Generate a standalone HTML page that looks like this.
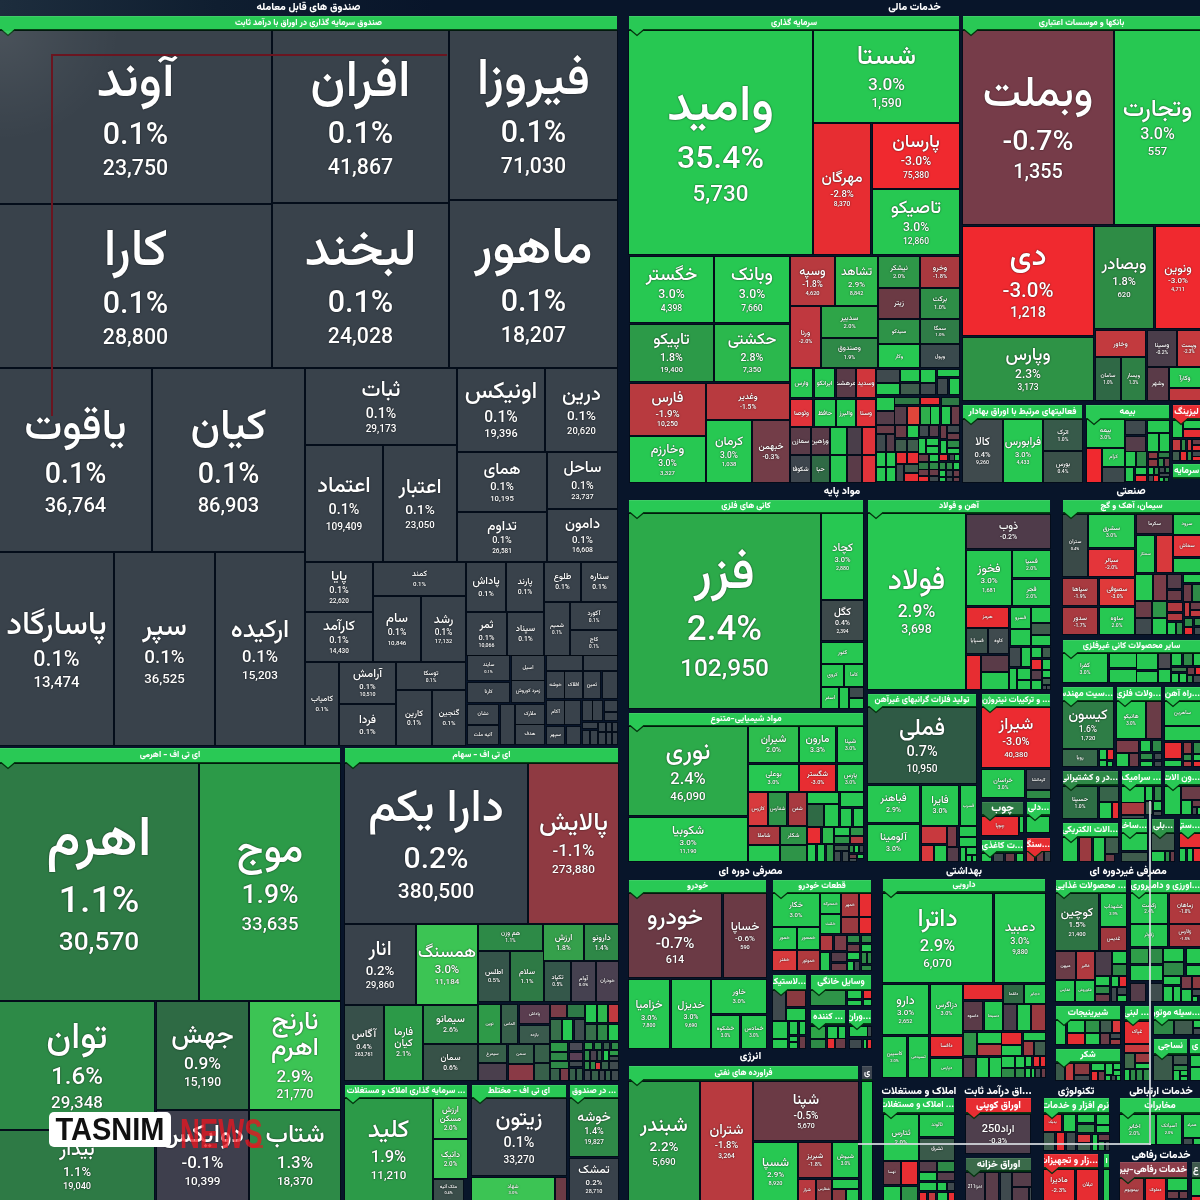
<!DOCTYPE html><html lang="fa"><head><meta charset="utf-8"><title>Market map</title><style>
*{margin:0;padding:0;box-sizing:border-box}
html,body{width:1200px;height:1200px;overflow:hidden;background:#08152a}
body{position:relative;font-family:"Vazirmatn","Liberation Sans","DejaVu Sans",sans-serif;color:#fff}
.c{position:absolute;overflow:hidden;box-shadow:0 0 0 1px rgba(0,6,10,.5);display:flex;align-items:center;justify-content:center}
.t{display:flex;flex-direction:column;align-items:center;text-align:center;text-shadow:0 0 2px rgba(0,0,0,.55),0 0 1px rgba(0,0,0,.4)}
.n{font-family:"Vazirmatn","DejaVu Sans",sans-serif;font-weight:500;line-height:1;white-space:nowrap}
.p,.v{font-family:"Roboto","Liberation Sans",sans-serif;font-weight:500;line-height:1.3;white-space:nowrap}
.h{position:absolute;text-align:center;font-weight:800;box-shadow:inset 0 -1px 0 rgba(2,50,14,.9),0 1px 0 rgba(2,50,14,.9),inset 0 1px 0 rgba(255,255,255,.1);white-space:nowrap;overflow:hidden;font-family:"Vazirmatn","DejaVu Sans",sans-serif;direction:rtl}
.nts{position:absolute;overflow:visible}
.nt{position:absolute;width:0;height:0;border-left:6px solid transparent;border-right:6px solid transparent;border-top:6px solid #33c653}
.ti{position:absolute;direction:rtl;text-align:center;font-weight:800;color:#fff;height:15px;line-height:15px;white-space:nowrap;font-family:"Vazirmatn","DejaVu Sans",sans-serif}
</style></head><body>
<div style="position:absolute;left:0;top:0;width:620px;height:16px;background:linear-gradient(to right,#1d2d3d,#0f1e30 35%,#08152a 70%)"></div>
<div class="ti" style="left:0px;top:0px;width:617px;font-size:10.5px">صندوق های قابل معامله</div>
<div class="h" style="left:0px;top:16px;width:617px;height:14px;background:#29c955;font-size:8.5px;line-height:14px;color:#fff">صندوق سرمایه گذاری در اوراق با درآمد ثابت</div>
<div class="c" style="left:0px;top:31px;width:271px;height:172px;background:#39424b"><div class="t" style="margin-top:5.5px"><span class="n" style="font-size:51.0px">آوند</span><span class="p" style="font-size:30.5px;margin-top:4.6px">0.1%</span><span class="v" style="font-size:21.3px">23,750</span></div></div>
<div class="c" style="left:273px;top:31px;width:175px;height:171px;background:#39424b"><div class="t" style="margin-top:5.5px"><span class="n" style="font-size:51.0px">افران</span><span class="p" style="font-size:30.5px;margin-top:4.6px">0.1%</span><span class="v" style="font-size:21.3px">41,867</span></div></div>
<div class="c" style="left:450px;top:31px;width:167px;height:168px;background:#39424b"><div class="t" style="margin-top:5.5px"><span class="n" style="font-size:51.0px">فیروزا</span><span class="p" style="font-size:30.5px;margin-top:4.6px">0.1%</span><span class="v" style="font-size:21.3px">71,030</span></div></div>
<div class="c" style="left:0px;top:205px;width:271px;height:162px;background:#39424b"><div class="t" style="margin-top:5.5px"><span class="n" style="font-size:51.0px">کارا</span><span class="p" style="font-size:30.5px;margin-top:4.6px">0.1%</span><span class="v" style="font-size:21.3px">28,800</span></div></div>
<div class="c" style="left:273px;top:204px;width:175px;height:163px;background:#39424b"><div class="t" style="margin-top:5.5px"><span class="n" style="font-size:51.0px">لبخند</span><span class="p" style="font-size:30.5px;margin-top:4.6px">0.1%</span><span class="v" style="font-size:21.3px">24,028</span></div></div>
<div class="c" style="left:450px;top:201px;width:167px;height:166px;background:#39424b"><div class="t" style="margin-top:5.5px"><span class="n" style="font-size:51.0px">ماهور</span><span class="p" style="font-size:30.5px;margin-top:4.6px">0.1%</span><span class="v" style="font-size:21.3px">18,207</span></div></div>
<div class="c" style="left:0px;top:369px;width:151px;height:182px;background:#39424b"><div class="t" style="margin-top:5.2px"><span class="n" style="font-size:43.0px">یاقوت</span><span class="p" style="font-size:28.7px;margin-top:4.3px">0.1%</span><span class="v" style="font-size:20.1px">36,764</span></div></div>
<div class="c" style="left:153px;top:369px;width:151px;height:182px;background:#39424b"><div class="t" style="margin-top:5.2px"><span class="n" style="font-size:43.0px">کیان</span><span class="p" style="font-size:28.7px;margin-top:4.3px">0.1%</span><span class="v" style="font-size:20.1px">86,903</span></div></div>
<div class="c" style="left:306px;top:369px;width:150px;height:75px;background:#39424b"><div class="t" style="margin-top:2.6px"><span class="n" style="font-size:21.4px">ثبات</span><span class="p" style="font-size:14.2px;margin-top:2.1px">0.1%</span><span class="v" style="font-size:10.0px">29,173</span></div></div>
<div class="c" style="left:306px;top:446px;width:76px;height:115px;background:#39424b"><div class="t" style="margin-top:2.6px"><span class="n" style="font-size:21.7px">اعتماد</span><span class="p" style="font-size:14.4px;margin-top:2.2px">0.1%</span><span class="v" style="font-size:10.1px">109,409</span></div></div>
<div class="c" style="left:384px;top:446px;width:72px;height:115px;background:#39424b"><div class="t" style="margin-top:2.5px"><span class="n" style="font-size:20.5px">اعتبار</span><span class="p" style="font-size:13.7px;margin-top:2.1px">0.1%</span><span class="v" style="font-size:9.6px">23,050</span></div></div>
<div class="c" style="left:458px;top:369px;width:86px;height:82px;background:#39424b"><div class="t" style="margin-top:2.8px"><span class="n" style="font-size:23.4px">اونیکس</span><span class="p" style="font-size:15.6px;margin-top:2.3px">0.1%</span><span class="v" style="font-size:10.9px">19,396</span></div></div>
<div class="c" style="left:546px;top:369px;width:71px;height:82px;background:#39424b"><div class="t" style="margin-top:2.4px"><span class="n" style="font-size:20.2px">درین</span><span class="p" style="font-size:13.5px;margin-top:2.0px">0.1%</span><span class="v" style="font-size:9.4px">20,620</span></div></div>
<div class="c" style="left:458px;top:453px;width:88px;height:58px;background:#39424b"><div class="t" style="margin-top:2.0px"><span class="n" style="font-size:16.5px">همای</span><span class="p" style="font-size:11.0px;margin-top:1.7px">0.1%</span><span class="v" style="font-size:7.7px">10,195</span></div></div>
<div class="c" style="left:548px;top:453px;width:69px;height:55px;background:#39424b"><div class="t" style="margin-top:1.9px"><span class="n" style="font-size:15.7px">ساحل</span><span class="p" style="font-size:10.4px;margin-top:1.6px">0.1%</span><span class="v" style="font-size:7.3px">23,737</span></div></div>
<div class="c" style="left:458px;top:513px;width:88px;height:48px;background:#39424b"><div class="t" style="margin-top:1.6px"><span class="n" style="font-size:13.7px">تداوم</span><span class="p" style="font-size:9.1px;margin-top:1.4px">0.1%</span><span class="v" style="font-size:6.4px">26,581</span></div></div>
<div class="c" style="left:548px;top:510px;width:69px;height:51px;background:#39424b"><div class="t" style="margin-top:1.7px"><span class="n" style="font-size:14.5px">دامون</span><span class="p" style="font-size:9.7px;margin-top:1.5px">0.1%</span><span class="v" style="font-size:6.8px">16,608</span></div></div>
<div class="c" style="left:0px;top:553px;width:113px;height:192px;background:#39424b"><div class="t" style="margin-top:3.9px"><span class="n" style="font-size:32.2px">پاسارگاد</span><span class="p" style="font-size:21.5px;margin-top:3.2px">0.1%</span><span class="v" style="font-size:15.0px">13,474</span></div></div>
<div class="c" style="left:115px;top:553px;width:99px;height:192px;background:#39424b"><div class="t" style="margin-top:3.4px"><span class="n" style="font-size:28.2px">سپر</span><span class="p" style="font-size:18.8px;margin-top:2.8px">0.1%</span><span class="v" style="font-size:13.2px">36,525</span></div></div>
<div class="c" style="left:216px;top:553px;width:88px;height:192px;background:#39424b"><div class="t" style="margin-top:3.0px"><span class="n" style="font-size:25.1px">ارکیده</span><span class="p" style="font-size:16.7px;margin-top:2.5px">0.1%</span><span class="v" style="font-size:11.7px">15,203</span></div></div>
<div class="c" style="left:306px;top:563px;width:66px;height:48px;background:#39424b"><div class="t" style="margin-top:1.6px"><span class="n" style="font-size:13.7px">پایا</span><span class="p" style="font-size:9.1px;margin-top:1.4px">0.1%</span><span class="v" style="font-size:6.4px">22,620</span></div></div>
<div class="c" style="left:374px;top:563px;width:91px;height:32px;background:#39424b"><div class="t" style="margin-top:1.1px"><span class="n" style="font-size:7.9px">کمند</span><span class="p" style="font-size:6.1px;margin-top:0.9px">0.1%</span></div></div>
<div class="c" style="left:374px;top:597px;width:46px;height:64px;background:#39424b"><div class="t" style="margin-top:1.6px"><span class="n" style="font-size:13.1px">سام</span><span class="p" style="font-size:8.7px;margin-top:1.3px">0.1%</span><span class="v" style="font-size:6.1px">10,846</span></div></div>
<div class="c" style="left:422px;top:597px;width:43px;height:64px;background:#39424b"><div class="t" style="margin-top:1.5px"><span class="n" style="font-size:12.3px">رشد</span><span class="p" style="font-size:8.2px;margin-top:1.2px">0.1%</span><span class="v" style="font-size:5.7px">17,132</span></div></div>
<div class="c" style="left:306px;top:613px;width:66px;height:48px;background:#39424b"><div class="t" style="margin-top:1.6px"><span class="n" style="font-size:13.7px">کارآمد</span><span class="p" style="font-size:9.1px;margin-top:1.4px">0.1%</span><span class="v" style="font-size:6.4px">14,430</span></div></div>
<div class="c" style="left:306px;top:663px;width:32px;height:82px;background:#39424b"><div class="t" style="margin-top:1.1px"><span class="n" style="font-size:7.9px">کامیاب</span><span class="p" style="font-size:6.1px;margin-top:0.9px">0.1%</span></div></div>
<div class="c" style="left:340px;top:663px;width:55px;height:40px;background:#39424b"><div class="t" style="margin-top:1.4px"><span class="n" style="font-size:11.4px">آرامش</span><span class="p" style="font-size:7.6px;margin-top:1.1px">0.1%</span><span class="v" style="font-size:5.3px">10,510</span></div></div>
<div class="c" style="left:340px;top:705px;width:55px;height:40px;background:#39424b"><div class="t" style="margin-top:1.4px"><span class="n" style="font-size:11.4px">فردا</span><span class="p" style="font-size:7.6px;margin-top:1.1px">0.1%</span></div></div>
<div class="c" style="left:397px;top:663px;width:68px;height:26px;background:#39424b"><div class="t" style="margin-top:0.9px"><span class="n" style="font-size:6.4px">توسکا</span><span class="p" style="font-size:4.9px;margin-top:0.7px">0.1%</span></div></div>
<div class="c" style="left:397px;top:691px;width:34px;height:54px;background:#39424b"><div class="t" style="margin-top:1.2px"><span class="n" style="font-size:8.4px">کارین</span><span class="p" style="font-size:6.5px;margin-top:1.0px">0.1%</span></div></div>
<div class="c" style="left:433px;top:691px;width:32px;height:54px;background:#39424b"><div class="t" style="margin-top:1.1px"><span class="n" style="font-size:7.9px">گنجین</span><span class="p" style="font-size:6.1px;margin-top:0.9px">0.1%</span></div></div>
<div class="c" style="left:467px;top:563px;width:38px;height:48px;background:#39424b"><div class="t" style="margin-top:1.3px"><span class="n" style="font-size:10.8px">پاداش</span><span class="p" style="font-size:7.2px;margin-top:1.1px">0.1%</span></div></div>
<div class="c" style="left:507px;top:563px;width:36px;height:48px;background:#39424b"><div class="t" style="margin-top:1.2px"><span class="n" style="font-size:8.9px">پارند</span><span class="p" style="font-size:6.8px;margin-top:1.0px">0.1%</span></div></div>
<div class="c" style="left:545px;top:563px;width:35px;height:38px;background:#39424b"><div class="t" style="margin-top:1.2px"><span class="n" style="font-size:8.6px">طلوع</span><span class="p" style="font-size:6.7px;margin-top:1.0px">0.1%</span></div></div>
<div class="c" style="left:582px;top:563px;width:35px;height:38px;background:#39424b"><div class="t" style="margin-top:1.2px"><span class="n" style="font-size:8.6px">ستاره</span><span class="p" style="font-size:6.7px;margin-top:1.0px">0.1%</span></div></div>
<div class="c" style="left:467px;top:613px;width:39px;height:42px;background:#39424b"><div class="t" style="margin-top:1.3px"><span class="n" style="font-size:11.1px">ثمر</span><span class="p" style="font-size:7.4px;margin-top:1.1px">0.1%</span><span class="v" style="font-size:5.2px">10,066</span></div></div>
<div class="c" style="left:508px;top:613px;width:35px;height:42px;background:#39424b"><div class="t" style="margin-top:1.2px"><span class="n" style="font-size:8.6px">سپناد</span><span class="p" style="font-size:6.7px;margin-top:1.0px">0.1%</span></div></div>
<div class="c" style="left:545px;top:603px;width:24px;height:52px;background:#39424b"><div class="t" style="margin-top:0.8px"><span class="n" style="font-size:5.9px">شمیم</span><span class="p" style="font-size:4.6px;margin-top:0.7px">0.1%</span></div></div>
<div class="c" style="left:571px;top:603px;width:46px;height:26px;background:#39424b"><div class="t" style="margin-top:0.9px"><span class="n" style="font-size:6.4px">آکورد</span><span class="p" style="font-size:4.9px;margin-top:0.7px">0.1%</span></div></div>
<div class="c" style="left:571px;top:631px;width:46px;height:24px;background:#39424b"><div class="t" style="margin-top:0.8px"><span class="n" style="font-size:5.9px">کاج</span><span class="p" style="font-size:4.6px;margin-top:0.7px">0.1%</span></div></div>
<div class="c" style="left:468px;top:656px;width:41px;height:24px;background:#39424b"><div class="t" style="margin-top:0.7px"><span class="n" style="font-size:5.2px">سایند</span><span class="p" style="font-size:4.0px;margin-top:0.6px">0.1%</span></div></div>
<div class="c" style="left:512px;top:656px;width:32px;height:24px;background:#39424b"><div class="t" style="margin-top:0.7px"><span class="n" style="font-size:5.2px">اسیل</span></div></div>
<div class="c" style="left:468px;top:683px;width:41px;height:19px;background:#39424b"><div class="t" style="margin-top:0.7px"><span class="n" style="font-size:5.2px">کارنا</span></div></div>
<div class="c" style="left:512px;top:681px;width:32px;height:21px;background:#39424b"><div class="t" style="margin-top:0.7px"><span class="n" style="font-size:5.2px">زمرد کوروش</span></div></div>
<div class="c" style="left:468px;top:705px;width:30px;height:19px;background:#39424b"><div class="t" style="margin-top:0.7px"><span class="n" style="font-size:5.2px">نشان</span></div></div>
<div class="c" style="left:501px;top:705px;width:13px;height:39px;background:#39424b"></div>
<div class="c" style="left:516px;top:705px;width:28px;height:19px;background:#39424b"><div class="t" style="margin-top:0.7px"><span class="n" style="font-size:5.2px">ملارک</span></div></div>
<div class="c" style="left:468px;top:726px;width:30px;height:18px;background:#39424b"><div class="t" style="margin-top:0.7px"><span class="n" style="font-size:5.2px">آتیه ملت</span></div></div>
<div class="c" style="left:516px;top:725px;width:28px;height:19px;background:#39424b"><div class="t" style="margin-top:0.7px"><span class="n" style="font-size:5.2px">هدف</span></div></div>
<div class="c" style="left:547px;top:656px;width:35px;height:14px;background:#39424b"></div>
<div class="c" style="left:584px;top:656px;width:33px;height:14px;background:#39424b"></div>
<div class="c" style="left:547px;top:672px;width:17px;height:26px;background:#39424b"><div class="t" style="margin-top:0.7px"><span class="n" style="font-size:5.2px">خوشه</span></div></div>
<div class="c" style="left:565px;top:672px;width:17px;height:26px;background:#39424b"><div class="t" style="margin-top:0.7px"><span class="n" style="font-size:5.2px">افلاک</span></div></div>
<div class="c" style="left:584px;top:672px;width:16px;height:26px;background:#39424b"><div class="t" style="margin-top:0.7px"><span class="n" style="font-size:5.2px">ثمین</span></div></div>
<div class="c" style="left:603px;top:672px;width:14px;height:26px;background:#39424b"></div>
<div class="c" style="left:547px;top:701px;width:17px;height:23px;background:#39424b"><div class="t" style="margin-top:0.7px"><span class="n" style="font-size:5.2px">آکام</span></div></div>
<div class="c" style="left:565px;top:701px;width:15px;height:23px;background:#39424b"></div>
<div class="c" style="left:547px;top:727px;width:17px;height:17px;background:#39424b"><div class="t" style="margin-top:0.7px"><span class="n" style="font-size:5.2px">سپهر</span></div></div>
<div class="c" style="left:567px;top:727px;width:13px;height:17px;background:#39424b"></div>
<div class="c" style="left:583px;top:701px;width:9px;height:19px;background:#39424b"></div>
<div class="c" style="left:593px;top:701px;width:9px;height:19px;background:#39424b"></div>
<div class="c" style="left:605px;top:701px;width:12px;height:10px;background:#39424b"></div>
<div class="c" style="left:605px;top:713px;width:12px;height:7px;background:#39424b"></div>
<div class="c" style="left:583px;top:723px;width:14px;height:5px;background:#39424b"></div>
<div class="c" style="left:583px;top:731px;width:6px;height:13px;background:#39424b"></div>
<div class="c" style="left:591px;top:731px;width:6px;height:13px;background:#39424b"></div>
<div class="c" style="left:599px;top:723px;width:6px;height:8px;background:#39424b"></div>
<div class="c" style="left:607px;top:723px;width:4px;height:8px;background:#39424b"></div>
<div class="c" style="left:613px;top:723px;width:4px;height:8px;background:#39424b"></div>
<div class="c" style="left:599px;top:733px;width:6px;height:11px;background:#39424b"></div>
<div class="c" style="left:607px;top:733px;width:4px;height:11px;background:#39424b"></div>
<div class="c" style="left:613px;top:733px;width:4px;height:11px;background:#39424b"></div>
<div class="h" style="left:0px;top:748px;width:340px;height:15px;background:#29c955;font-size:8.5px;line-height:15px;color:#fff">ای تی اف - اهرمی</div>
<div class="c" style="left:0px;top:764px;width:198px;height:236px;background:#2e7a45"><div class="t" style="margin-top:6.8px"><span class="n" style="font-size:56.4px">اهرم</span><span class="p" style="font-size:37.6px;margin-top:5.6px">1.1%</span><span class="v" style="font-size:26.3px">30,570</span></div></div>
<div class="c" style="left:200px;top:764px;width:140px;height:236px;background:#2c9a48"><div class="t" style="margin-top:4.8px"><span class="n" style="font-size:39.9px">موج</span><span class="p" style="font-size:26.6px;margin-top:4.0px">1.9%</span><span class="v" style="font-size:18.6px">33,635</span></div></div>
<div class="c" style="left:0px;top:1002px;width:154px;height:127px;background:#2d8a47"><div class="t" style="margin-top:4.3px"><span class="n" style="font-size:36.2px">توان</span><span class="p" style="font-size:24.1px;margin-top:3.6px">1.6%</span><span class="v" style="font-size:16.9px">29,348</span></div></div>
<div class="c" style="left:0px;top:1131px;width:154px;height:69px;background:#2e7a45"><div class="t" style="margin-top:2.4px"><span class="n" style="font-size:19.7px">بیدار</span><span class="p" style="font-size:13.1px;margin-top:2.0px">1.1%</span><span class="v" style="font-size:9.2px">19,040</span></div></div>
<div class="c" style="left:157px;top:1002px;width:91px;height:107px;background:#2e6a44"><div class="t" style="margin-top:3.1px"><span class="n" style="font-size:25.9px">جهش</span><span class="p" style="font-size:17.3px;margin-top:2.6px">0.9%</span><span class="v" style="font-size:12.1px">15,190</span></div></div>
<div class="c" style="left:157px;top:1111px;width:91px;height:89px;background:#3e3f4d"><div class="t" style="margin-top:3.0px"><span class="n" style="font-size:25.4px">دوایکس</span><span class="p" style="font-size:16.9px;margin-top:2.5px">-0.1%</span><span class="v" style="font-size:11.8px">10,399</span></div></div>
<div class="c" style="left:250px;top:1002px;width:90px;height:107px;background:#3cc454"><div class="t" style="margin-top:3.1px"><span class="n" style="font-size:25.7px">نارنج<br>اهرم</span><span class="p" style="font-size:17.1px;margin-top:2.6px">2.9%</span><span class="v" style="font-size:12.0px">21,770</span></div></div>
<div class="c" style="left:250px;top:1111px;width:90px;height:89px;background:#2d8a47"><div class="t" style="margin-top:3.0px"><span class="n" style="font-size:25.4px">شتاب</span><span class="p" style="font-size:16.9px;margin-top:2.5px">1.3%</span><span class="v" style="font-size:11.8px">18,370</span></div></div>
<div class="h" style="left:345px;top:748px;width:273px;height:15px;background:#29c955;font-size:8.5px;line-height:15px;color:#fff">ای تی اف - سهام</div>
<div class="c" style="left:345px;top:764px;width:182px;height:159px;background:#37414b"><div class="t" style="margin-top:5.4px"><span class="n" style="font-size:45.3px">دارا یکم</span><span class="p" style="font-size:30.2px;margin-top:4.5px">0.2%</span><span class="v" style="font-size:21.1px">380,500</span></div></div>
<div class="c" style="left:529px;top:764px;width:89px;height:159px;background:#8f3a42"><div class="t" style="margin-top:3.0px"><span class="n" style="font-size:25.4px">پالایش</span><span class="p" style="font-size:16.9px;margin-top:2.5px">-1.1%</span><span class="v" style="font-size:11.8px">273,880</span></div></div>
<div class="c" style="left:345px;top:925px;width:70px;height:79px;background:#39424b"><div class="t" style="margin-top:2.4px"><span class="n" style="font-size:20.0px">انار</span><span class="p" style="font-size:13.3px;margin-top:2.0px">0.2%</span><span class="v" style="font-size:9.3px">29,860</span></div></div>
<div class="c" style="left:417px;top:925px;width:60px;height:79px;background:#3cc454"><div class="t" style="margin-top:2.1px"><span class="n" style="font-size:17.1px">همسنگ</span><span class="p" style="font-size:11.4px;margin-top:1.7px">3.0%</span><span class="v" style="font-size:8.0px">11,184</span></div></div>
<div class="c" style="left:479px;top:925px;width:63px;height:25px;background:#2d8a47"><div class="t" style="margin-top:0.9px"><span class="n" style="font-size:6.2px">هم وزن</span><span class="p" style="font-size:4.8px;margin-top:0.7px">1.1%</span></div></div>
<div class="c" style="left:544px;top:925px;width:39px;height:35px;background:#35a04b"><div class="t" style="margin-top:1.2px"><span class="n" style="font-size:8.6px">ارزش</span><span class="p" style="font-size:6.7px;margin-top:1.0px">1.8%</span></div></div>
<div class="c" style="left:585px;top:925px;width:33px;height:35px;background:#2e8847"><div class="t" style="margin-top:1.1px"><span class="n" style="font-size:8.2px">دارونو</span><span class="p" style="font-size:6.3px;margin-top:0.9px">1.4%</span></div></div>
<div class="c" style="left:479px;top:952px;width:30px;height:49px;background:#35554a"><div class="t" style="margin-top:1.0px"><span class="n" style="font-size:7.4px">اطلس</span><span class="p" style="font-size:5.7px;margin-top:0.9px">0.5%</span></div></div>
<div class="c" style="left:511px;top:952px;width:32px;height:49px;background:#2e7a45"><div class="t" style="margin-top:1.1px"><span class="n" style="font-size:7.9px">سلام</span><span class="p" style="font-size:6.1px;margin-top:0.9px">1.1%</span></div></div>
<div class="c" style="left:545px;top:962px;width:25px;height:39px;background:#34574a"><div class="t" style="margin-top:0.9px"><span class="n" style="font-size:6.2px">تکپاد</span><span class="p" style="font-size:4.8px;margin-top:0.7px">0.5%</span></div></div>
<div class="c" style="left:572px;top:962px;width:23px;height:39px;background:#454150"><div class="t" style="margin-top:0.8px"><span class="n" style="font-size:5.7px">آوام</span><span class="p" style="font-size:4.4px;margin-top:0.7px">0.0%</span></div></div>
<div class="c" style="left:597px;top:962px;width:21px;height:39px;background:#4a4050"><div class="t" style="margin-top:0.7px"><span class="n" style="font-size:5.2px">خودران</span></div></div>
<div class="c" style="left:345px;top:1006px;width:38px;height:74px;background:#37504a"><div class="t" style="margin-top:1.3px"><span class="n" style="font-size:10.8px">آگاس</span><span class="p" style="font-size:7.2px;margin-top:1.1px">0.4%</span><span class="v" style="font-size:5.1px">263,761</span></div></div>
<div class="c" style="left:385px;top:1006px;width:37px;height:74px;background:#2c9a48"><div class="t" style="margin-top:1.3px"><span class="n" style="font-size:10.5px">فارما<br>کیان</span><span class="p" style="font-size:7.0px;margin-top:1.1px">2.1%</span></div></div>
<div class="c" style="left:424px;top:1006px;width:53px;height:37px;background:#2d8a47"><div class="t" style="margin-top:1.3px"><span class="n" style="font-size:10.5px">سیمانو</span><span class="p" style="font-size:7.0px;margin-top:1.1px">2.6%</span></div></div>
<div class="c" style="left:424px;top:1045px;width:53px;height:35px;background:#375248"><div class="t" style="margin-top:1.2px"><span class="n" style="font-size:8.6px">سمان</span><span class="p" style="font-size:6.7px;margin-top:1.0px">0.6%</span></div></div>
<div class="c" style="left:479px;top:1005px;width:21px;height:38px;background:#2e9a48"><div class="t" style="margin-top:0.6px"><span class="n" style="font-size:4.5px">نوین</span></div></div>
<div class="c" style="left:502px;top:1005px;width:15px;height:38px;background:#37604a"><div class="t" style="margin-top:0.6px"><span class="n" style="font-size:4.5px">الماس</span></div></div>
<div class="c" style="left:520px;top:1005px;width:29px;height:18px;background:#5a3d4f"><div class="t" style="margin-top:0.6px"><span class="n" style="font-size:4.5px">پاداش</span></div></div>
<div class="c" style="left:520px;top:1026px;width:29px;height:17px;background:#3a5a4d"><div class="t" style="margin-top:0.6px"><span class="n" style="font-size:4.5px">بازده</span></div></div>
<div class="c" style="left:551px;top:1005px;width:15px;height:12px;background:#7a3c48"></div>
<div class="c" style="left:568px;top:1005px;width:16px;height:12px;background:#2e7a47"></div>
<div class="c" style="left:586px;top:1005px;width:10px;height:17px;background:#27c852"></div>
<div class="c" style="left:598px;top:1005px;width:9px;height:17px;background:#2fb84d"></div>
<div class="c" style="left:609px;top:1005px;width:9px;height:17px;background:#c03a3f"></div>
<div class="c" style="left:551px;top:1020px;width:10px;height:20px;background:#37704a"></div>
<div class="c" style="left:563px;top:1020px;width:9px;height:20px;background:#27c852"></div>
<div class="c" style="left:575px;top:1020px;width:9px;height:20px;background:#3d4d4e"></div>
<div class="c" style="left:586px;top:1025px;width:10px;height:15px;background:#37704a"></div>
<div class="c" style="left:598px;top:1025px;width:9px;height:15px;background:#2e8a47"></div>
<div class="c" style="left:609px;top:1025px;width:9px;height:15px;background:#27c852"></div>
<div class="c" style="left:479px;top:1045px;width:27px;height:17px;background:#37604a"><div class="t" style="margin-top:0.6px"><span class="n" style="font-size:4.5px">سیمرغ</span></div></div>
<div class="c" style="left:509px;top:1045px;width:24px;height:18px;background:#37604a"><div class="t" style="margin-top:0.6px"><span class="n" style="font-size:4.5px">سمن</span></div></div>
<div class="c" style="left:535px;top:1045px;width:14px;height:17px;background:#37604a"></div>
<div class="c" style="left:479px;top:1064px;width:27px;height:16px;background:#4a3f4d"></div>
<div class="c" style="left:509px;top:1065px;width:24px;height:15px;background:#8a3a46"></div>
<div class="c" style="left:535px;top:1064px;width:14px;height:16px;background:#37604a"></div>
<div class="c" style="left:551px;top:1043px;width:16px;height:8px;background:#2e9a48"></div>
<div class="c" style="left:551px;top:1053px;width:16px;height:7px;background:#2e8a47"></div>
<div class="c" style="left:551px;top:1062px;width:17px;height:6px;background:#2e8a47"></div>
<div class="c" style="left:551px;top:1069px;width:8px;height:11px;background:#37604a"></div>
<div class="c" style="left:561px;top:1069px;width:7px;height:11px;background:#7a3c48"></div>
<div class="c" style="left:570px;top:1043px;width:12px;height:7px;background:#4a4a55"></div>
<div class="c" style="left:570px;top:1053px;width:12px;height:7px;background:#5a3f55"></div>
<div class="c" style="left:570px;top:1062px;width:12px;height:4px;background:#3f4a4e"></div>
<div class="c" style="left:570px;top:1069px;width:5px;height:11px;background:#37604a"></div>
<div class="c" style="left:577px;top:1069px;width:5px;height:11px;background:#37604a"></div>
<div class="c" style="left:585px;top:1043px;width:7px;height:6px;background:#2e9a48"></div>
<div class="c" style="left:595px;top:1043px;width:6px;height:6px;background:#2e8a47"></div>
<div class="c" style="left:604px;top:1043px;width:5px;height:6px;background:#37604a"></div>
<div class="c" style="left:612px;top:1043px;width:6px;height:6px;background:#2e8a47"></div>
<div class="c" style="left:585px;top:1051px;width:4px;height:9px;background:#2e8a47"></div>
<div class="c" style="left:591px;top:1051px;width:5px;height:9px;background:#4a3f4d"></div>
<div class="c" style="left:598px;top:1051px;width:3px;height:9px;background:#37604a"></div>
<div class="c" style="left:604px;top:1051px;width:4px;height:9px;background:#27c852"></div>
<div class="c" style="left:610px;top:1051px;width:8px;height:4px;background:#2e9a48"></div>
<div class="c" style="left:610px;top:1057px;width:8px;height:3px;background:#3f4a4e"></div>
<div class="c" style="left:585px;top:1062px;width:4px;height:7px;background:#2e8a47"></div>
<div class="c" style="left:591px;top:1062px;width:4px;height:7px;background:#2e8a47"></div>
<div class="c" style="left:596px;top:1063px;width:4px;height:6px;background:#d8393d"></div>
<div class="c" style="left:602px;top:1062px;width:6px;height:7px;background:#37604a"></div>
<div class="c" style="left:610px;top:1062px;width:8px;height:7px;background:#3f4a4e"></div>
<div class="c" style="left:585px;top:1071px;width:5px;height:9px;background:#3f4a4e"></div>
<div class="c" style="left:592px;top:1071px;width:6px;height:9px;background:#37604a"></div>
<div class="c" style="left:600px;top:1071px;width:4px;height:9px;background:#3f4a4e"></div>
<div class="c" style="left:606px;top:1071px;width:4px;height:9px;background:#37604a"></div>
<div class="c" style="left:612px;top:1071px;width:6px;height:9px;background:#3f4a4e"></div>
<div class="h" style="left:345px;top:1085px;width:122px;height:13px;background:#29c955;font-size:8.5px;line-height:13px;color:#fff">... سرمایه گذاری املاک و مستغلات</div>
<div class="h" style="left:472px;top:1085px;width:94px;height:13px;background:#29c955;font-size:8.5px;line-height:13px;color:#fff">ای تی اف - مختلط</div>
<div class="h" style="left:570px;top:1085px;width:48px;height:13px;background:#29c955;font-size:8.5px;line-height:13px;color:#fff">... در صندوق</div>
<div class="c" style="left:345px;top:1099px;width:87px;height:101px;background:#2c9a48"><div class="t" style="margin-top:3.0px"><span class="n" style="font-size:24.8px">کلید</span><span class="p" style="font-size:16.5px;margin-top:2.5px">1.9%</span><span class="v" style="font-size:11.6px">11,210</span></div></div>
<div class="c" style="left:434px;top:1099px;width:33px;height:39px;background:#3cc454"><div class="t" style="margin-top:1.1px"><span class="n" style="font-size:8.2px">ارزش<br>مسکن</span><span class="p" style="font-size:6.3px;margin-top:0.9px">2.0%</span></div></div>
<div class="c" style="left:434px;top:1140px;width:33px;height:38px;background:#3cc454"><div class="t" style="margin-top:1.1px"><span class="n" style="font-size:8.2px">دانیک</span><span class="p" style="font-size:6.3px;margin-top:0.9px">2.0%</span></div></div>
<div class="c" style="left:434px;top:1180px;width:29px;height:20px;background:#3a4d4a"><div class="t" style="margin-top:0.7px"><span class="n" style="font-size:4.9px">ملک آتیه</span><span class="p" style="font-size:3.8px;margin-top:0.6px">0.4%</span></div></div>
<div class="c" style="left:472px;top:1099px;width:94px;height:76px;background:#39424b"><div class="t" style="margin-top:2.6px"><span class="n" style="font-size:21.7px">زیتون</span><span class="p" style="font-size:14.4px;margin-top:2.2px">0.1%</span><span class="v" style="font-size:10.1px">33,270</span></div></div>
<div class="c" style="left:472px;top:1178px;width:82px;height:22px;background:#3cc454"><div class="t" style="margin-top:0.8px"><span class="n" style="font-size:5.4px">شهاد</span><span class="p" style="font-size:4.2px;margin-top:0.6px">3.0%</span></div></div>
<div class="c" style="left:556px;top:1178px;width:10px;height:22px;background:#6b3a45"></div>
<div class="c" style="left:570px;top:1099px;width:48px;height:57px;background:#2f8a48"><div class="t" style="margin-top:1.6px"><span class="n" style="font-size:13.7px">خوشه</span><span class="p" style="font-size:9.1px;margin-top:1.4px">1.4%</span><span class="v" style="font-size:6.4px">19,827</span></div></div>
<div class="c" style="left:570px;top:1159px;width:48px;height:41px;background:#39424b"><div class="t" style="margin-top:1.4px"><span class="n" style="font-size:11.7px">تمشک</span><span class="p" style="font-size:7.8px;margin-top:1.2px">0.2%</span><span class="v" style="font-size:5.5px">28,710</span></div></div>
<div class="ti" style="left:629px;top:0px;width:571px;font-size:10.5px">خدمات مالی</div>
<div class="h" style="left:629px;top:16px;width:330px;height:14px;background:#29c955;font-size:8.5px;line-height:14px;color:#fff">سرمایه گذاری</div>
<div class="h" style="left:963px;top:16px;width:237px;height:14px;background:#29c955;font-size:8.5px;line-height:14px;color:#fff">بانکها و موسسات اعتباری</div>
<div class="c" style="left:629px;top:31px;width:183px;height:223px;background:#27c852"><div class="t" style="margin-top:5.8px"><span class="n" style="font-size:50.0px">وامید</span><span class="p" style="font-size:32.0px;margin-top:4.8px">35.4%</span><span class="v" style="font-size:22.4px">5,730</span></div></div>
<div class="c" style="left:814px;top:31px;width:145px;height:91px;background:#27c852"><div class="t" style="margin-top:3.1px"><span class="n" style="font-size:25.9px">شستا</span><span class="p" style="font-size:17.3px;margin-top:2.6px">3.0%</span><span class="v" style="font-size:12.1px">1,590</span></div></div>
<div class="c" style="left:814px;top:124px;width:56px;height:130px;background:#e72d32"><div class="t" style="margin-top:1.7px"><span class="n" style="font-size:15.0px">مهرگان</span><span class="p" style="font-size:9.5px;margin-top:1.4px">-2.8%</span><span class="v" style="font-size:6.6px">8,370</span></div></div>
<div class="c" style="left:873px;top:124px;width:86px;height:64px;background:#f0292f"><div class="t" style="margin-top:2.2px"><span class="n" style="font-size:18.2px">پارسان</span><span class="p" style="font-size:12.2px;margin-top:1.8px">-3.0%</span><span class="v" style="font-size:8.5px">75,380</span></div></div>
<div class="c" style="left:873px;top:190px;width:86px;height:64px;background:#27c852"><div class="t" style="margin-top:2.2px"><span class="n" style="font-size:18.2px">تاصیکو</span><span class="p" style="font-size:12.2px;margin-top:1.8px">3.0%</span><span class="v" style="font-size:8.5px">12,860</span></div></div>
<div class="c" style="left:963px;top:31px;width:150px;height:193px;background:#763c49"><div class="t" style="margin-top:5.1px"><span class="n" style="font-size:42.8px">وبملت</span><span class="p" style="font-size:28.5px;margin-top:4.3px">-0.7%</span><span class="v" style="font-size:19.9px">1,355</span></div></div>
<div class="c" style="left:1115px;top:31px;width:85px;height:193px;background:#27c852"><div class="t" style="margin-top:2.9px"><span class="n" style="font-size:24.2px">وتجارت</span><span class="p" style="font-size:16.1px;margin-top:2.4px">3.0%</span><span class="v" style="font-size:11.3px">557</span></div></div>
<div class="c" style="left:963px;top:227px;width:130px;height:108px;background:#f0292f"><div class="t" style="margin-top:3.7px"><span class="n" style="font-size:30.8px">دی</span><span class="p" style="font-size:20.5px;margin-top:3.1px">-3.0%</span><span class="v" style="font-size:14.4px">1,218</span></div></div>
<div class="c" style="left:1095px;top:227px;width:58px;height:101px;background:#2e8c45"><div class="t" style="margin-top:2.0px"><span class="n" style="font-size:16.5px">وبصادر</span><span class="p" style="font-size:11.0px;margin-top:1.6px">1.8%</span><span class="v" style="font-size:7.7px">620</span></div></div>
<div class="c" style="left:1156px;top:227px;width:44px;height:101px;background:#f0292f"><div class="t" style="margin-top:1.4px"><span class="n" style="font-size:12.0px">ونوین</span><span class="p" style="font-size:8.0px;margin-top:1.2px">-3.0%</span><span class="v" style="font-size:5.6px">4,711</span></div></div>
<div class="c" style="left:963px;top:338px;width:130px;height:62px;background:#2e9346"><div class="t" style="margin-top:2.2px"><span class="n" style="font-size:18.0px">وپارس</span><span class="p" style="font-size:12.0px;margin-top:1.8px">2.3%</span><span class="v" style="font-size:8.4px">3,173</span></div></div>
<div class="c" style="left:1096px;top:331px;width:49px;height:25px;background:#c23a3e"><div class="t" style="margin-top:0.9px"><span class="n" style="font-size:6.5px">وخاور</span></div></div>
<div class="c" style="left:1148px;top:331px;width:28px;height:35px;background:#4a3d4a"><div class="t" style="margin-top:0.9px"><span class="n" style="font-size:6.5px">وسینا</span><span class="p" style="font-size:5.0px;margin-top:0.8px">-0.2%</span></div></div>
<div class="c" style="left:1178px;top:331px;width:22px;height:35px;background:#c53a3e"><div class="t" style="margin-top:0.8px"><span class="n" style="font-size:5.9px">وپست</span><span class="p" style="font-size:4.5px;margin-top:0.7px">-2.3%</span></div></div>
<div class="c" style="left:1096px;top:358px;width:24px;height:42px;background:#2f6845"><div class="t" style="margin-top:0.8px"><span class="n" style="font-size:5.9px">سامان</span><span class="p" style="font-size:4.5px;margin-top:0.7px">1.0%</span></div></div>
<div class="c" style="left:1122px;top:358px;width:23px;height:42px;background:#2e8045"><div class="t" style="margin-top:0.8px"><span class="n" style="font-size:5.9px">ویسار</span><span class="p" style="font-size:4.5px;margin-top:0.7px">1.3%</span></div></div>
<div class="c" style="left:1148px;top:368px;width:20px;height:32px;background:#5a3b48"><div class="t" style="margin-top:0.8px"><span class="n" style="font-size:5.9px">وشهر</span></div></div>
<div class="c" style="left:1170px;top:368px;width:30px;height:19px;background:#27c852"><div class="t" style="margin-top:0.9px"><span class="n" style="font-size:6.5px">وکارآ</span></div></div>
<div class="c" style="left:1170px;top:389px;width:30px;height:11px;background:#c0393e"></div>
<div class="c" style="left:630px;top:257px;width:83px;height:65px;background:#27c852"><div class="t" style="margin-top:2.2px"><span class="n" style="font-size:18.5px">خگستر</span><span class="p" style="font-size:12.3px;margin-top:1.9px">3.0%</span><span class="v" style="font-size:8.6px">4,398</span></div></div>
<div class="c" style="left:715px;top:257px;width:74px;height:65px;background:#27c852"><div class="t" style="margin-top:2.2px"><span class="n" style="font-size:18.5px">وبانک</span><span class="p" style="font-size:12.3px;margin-top:1.9px">3.0%</span><span class="v" style="font-size:8.6px">7,660</span></div></div>
<div class="c" style="left:630px;top:325px;width:83px;height:56px;background:#2c9a48"><div class="t" style="margin-top:1.9px"><span class="n" style="font-size:16.0px">تاپیکو</span><span class="p" style="font-size:10.6px;margin-top:1.6px">1.8%</span><span class="v" style="font-size:7.4px">19,400</span></div></div>
<div class="c" style="left:715px;top:325px;width:74px;height:56px;background:#2bb84d"><div class="t" style="margin-top:1.9px"><span class="n" style="font-size:16.0px">حکشتی</span><span class="p" style="font-size:10.6px;margin-top:1.6px">2.8%</span><span class="v" style="font-size:7.4px">7,350</span></div></div>
<div class="c" style="left:630px;top:384px;width:75px;height:51px;background:#b83a3f"><div class="t" style="margin-top:1.7px"><span class="n" style="font-size:14.5px">فارس</span><span class="p" style="font-size:9.7px;margin-top:1.5px">-1.9%</span><span class="v" style="font-size:6.8px">10,250</span></div></div>
<div class="c" style="left:707px;top:384px;width:82px;height:35px;background:#b83a3f"><div class="t" style="margin-top:1.2px"><span class="n" style="font-size:8.6px">وغدیر</span><span class="p" style="font-size:6.7px;margin-top:1.0px">-1.5%</span></div></div>
<div class="c" style="left:630px;top:437px;width:75px;height:45px;background:#27c852"><div class="t" style="margin-top:1.5px"><span class="n" style="font-size:12.8px">وخارزم</span><span class="p" style="font-size:8.6px;margin-top:1.3px">3.0%</span><span class="v" style="font-size:6.0px">3,327</span></div></div>
<div class="c" style="left:707px;top:421px;width:44px;height:61px;background:#27c852"><div class="t" style="margin-top:1.5px"><span class="n" style="font-size:12.5px">کرمان</span><span class="p" style="font-size:8.4px;margin-top:1.3px">3.0%</span><span class="v" style="font-size:5.9px">1,038</span></div></div>
<div class="c" style="left:753px;top:421px;width:36px;height:61px;background:#733d48"><div class="t" style="margin-top:1.2px"><span class="n" style="font-size:8.9px">خبهمن</span><span class="p" style="font-size:6.8px;margin-top:1.0px">-0.3%</span></div></div>
<div class="c" style="left:791px;top:257px;width:43px;height:48px;background:#b83a3f"><div class="t" style="margin-top:1.5px"><span class="n" style="font-size:12.3px">وسپه</span><span class="p" style="font-size:8.2px;margin-top:1.2px">-1.8%</span><span class="v" style="font-size:5.7px">4,620</span></div></div>
<div class="c" style="left:836px;top:257px;width:41px;height:48px;background:#2dbb4d"><div class="t" style="margin-top:1.4px"><span class="n" style="font-size:11.7px">تشاهد</span><span class="p" style="font-size:7.8px;margin-top:1.2px">2.9%</span><span class="v" style="font-size:5.5px">8,842</span></div></div>
<div class="c" style="left:879px;top:257px;width:40px;height:30px;background:#2e9748"><div class="t" style="margin-top:1.0px"><span class="n" style="font-size:7.4px">نیشکر</span><span class="p" style="font-size:5.7px;margin-top:0.9px">2.0%</span></div></div>
<div class="c" style="left:921px;top:257px;width:38px;height:30px;background:#a8393f"><div class="t" style="margin-top:1.0px"><span class="n" style="font-size:7.4px">وخرو</span><span class="p" style="font-size:5.7px;margin-top:0.9px">-1.8%</span></div></div>
<div class="c" style="left:879px;top:289px;width:40px;height:29px;background:#6b3a44"><div class="t" style="margin-top:1.0px"><span class="n" style="font-size:7.2px">زیتر</span></div></div>
<div class="c" style="left:921px;top:289px;width:38px;height:29px;background:#2e8e47"><div class="t" style="margin-top:1.0px"><span class="n" style="font-size:7.2px">برکت</span><span class="p" style="font-size:5.5px;margin-top:0.8px">1.0%</span></div></div>
<div class="c" style="left:791px;top:307px;width:29px;height:60px;background:#c0383f"><div class="t" style="margin-top:1.0px"><span class="n" style="font-size:7.2px">ورنا</span><span class="p" style="font-size:5.5px;margin-top:0.8px">-2.0%</span></div></div>
<div class="c" style="left:822px;top:307px;width:55px;height:30px;background:#2ea548"><div class="t" style="margin-top:1.0px"><span class="n" style="font-size:7.4px">سدبیر</span><span class="p" style="font-size:5.7px;margin-top:0.9px">2.0%</span></div></div>
<div class="c" style="left:822px;top:339px;width:55px;height:28px;background:#2e8947"><div class="t" style="margin-top:1.0px"><span class="n" style="font-size:6.9px">وصندوق</span><span class="p" style="font-size:5.3px;margin-top:0.8px">1.9%</span></div></div>
<div class="c" style="left:879px;top:320px;width:40px;height:23px;background:#2e9348"><div class="t" style="margin-top:0.8px"><span class="n" style="font-size:5.7px">سیدکو</span></div></div>
<div class="c" style="left:921px;top:320px;width:38px;height:23px;background:#2f7c47"><div class="t" style="margin-top:0.8px"><span class="n" style="font-size:5.7px">سمگا</span><span class="p" style="font-size:4.4px;margin-top:0.7px">1.0%</span></div></div>
<div class="c" style="left:879px;top:345px;width:40px;height:22px;background:#27c852"><div class="t" style="margin-top:0.8px"><span class="n" style="font-size:5.4px">وکار</span></div></div>
<div class="c" style="left:921px;top:345px;width:38px;height:22px;background:#3a4a4d"><div class="t" style="margin-top:0.8px"><span class="n" style="font-size:5.4px">وپول</span></div></div>
<div class="c" style="left:791px;top:369px;width:21px;height:28px;background:#27c852"><div class="t" style="margin-top:0.9px"><span class="n" style="font-size:6.5px">وارس</span></div></div>
<div class="c" style="left:815px;top:369px;width:19px;height:28px;background:#27c852"><div class="t" style="margin-top:0.9px"><span class="n" style="font-size:6.5px">ایرانکو</span></div></div>
<div class="c" style="left:837px;top:369px;width:18px;height:28px;background:#5a3b48"><div class="t" style="margin-top:0.9px"><span class="n" style="font-size:6.5px">ثمرهشت</span></div></div>
<div class="c" style="left:857px;top:369px;width:18px;height:28px;background:#d0363c"><div class="t" style="margin-top:0.9px"><span class="n" style="font-size:6.5px">وسدید</span></div></div>
<div class="c" style="left:791px;top:400px;width:21px;height:26px;background:#e0333a"><div class="t" style="margin-top:0.9px"><span class="n" style="font-size:6.5px">وثوصا</span></div></div>
<div class="c" style="left:815px;top:400px;width:20px;height:26px;background:#27c852"><div class="t" style="margin-top:0.9px"><span class="n" style="font-size:6.5px">حافظ</span></div></div>
<div class="c" style="left:837px;top:400px;width:18px;height:26px;background:#27c852"><div class="t" style="margin-top:0.9px"><span class="n" style="font-size:6.5px">والبرز</span></div></div>
<div class="c" style="left:857px;top:400px;width:18px;height:26px;background:#e0333a"><div class="t" style="margin-top:0.9px"><span class="n" style="font-size:6.5px">وسنا</span></div></div>
<div class="c" style="left:791px;top:428px;width:19px;height:26px;background:#5a3b48"><div class="t" style="margin-top:0.9px"><span class="n" style="font-size:6.5px">سمازن</span></div></div>
<div class="c" style="left:812px;top:428px;width:17px;height:26px;background:#5a3b48"><div class="t" style="margin-top:0.9px"><span class="n" style="font-size:6.5px">اوراهین</span></div></div>
<div class="c" style="left:831px;top:428px;width:15px;height:26px;background:#27c852"></div>
<div class="c" style="left:848px;top:428px;width:13px;height:26px;background:#4a3e4a"></div>
<div class="c" style="left:863px;top:428px;width:12px;height:26px;background:#e0333a"></div>
<div class="c" style="left:791px;top:456px;width:19px;height:26px;background:#3d454d"><div class="t" style="margin-top:0.9px"><span class="n" style="font-size:6.5px">شکوفا</span></div></div>
<div class="c" style="left:812px;top:456px;width:17px;height:26px;background:#2f6a45"><div class="t" style="margin-top:0.9px"><span class="n" style="font-size:6.5px">حبا</span></div></div>
<div class="c" style="left:831px;top:456px;width:15px;height:26px;background:#27c852"></div>
<div class="c" style="left:848px;top:456px;width:13px;height:26px;background:#5a3b48"></div>
<div class="c" style="left:863px;top:456px;width:12px;height:26px;background:#e0333a"></div>
<div class="h" style="left:963px;top:405px;width:119px;height:14px;background:#29c955;font-size:9px;line-height:14px;color:#fff">فعالیتهای مرتبط با اوراق بهادار</div>
<div class="h" style="left:1086px;top:405px;width:83px;height:14px;background:#29c955;font-size:9px;line-height:14px;color:#fff">بیمه</div>
<div class="h" style="left:1173px;top:405px;width:27px;height:14px;background:#e72d32;font-size:9px;line-height:14px;color:#fff">لیزینگ</div>
<div class="c" style="left:963px;top:420px;width:39px;height:62px;background:#3f4a4d"><div class="t" style="margin-top:1.3px"><span class="n" style="font-size:11.2px">کالا</span><span class="p" style="font-size:7.5px;margin-top:1.1px">0.4%</span><span class="v" style="font-size:5.2px">9,260</span></div></div>
<div class="c" style="left:1004px;top:420px;width:38px;height:62px;background:#27c852"><div class="t" style="margin-top:1.3px"><span class="n" style="font-size:11.2px">فرابورس</span><span class="p" style="font-size:7.5px;margin-top:1.1px">3.0%</span><span class="v" style="font-size:5.2px">4,433</span></div></div>
<div class="c" style="left:1044px;top:420px;width:38px;height:30px;background:#375a4a"><div class="t" style="margin-top:0.9px"><span class="n" style="font-size:6.5px">اترک</span><span class="p" style="font-size:5.0px;margin-top:0.8px">1.0%</span></div></div>
<div class="c" style="left:1044px;top:452px;width:38px;height:30px;background:#3a5149"><div class="t" style="margin-top:0.9px"><span class="n" style="font-size:6.5px">بورس</span><span class="p" style="font-size:5.0px;margin-top:0.8px">0.4%</span></div></div>
<div class="c" style="left:1087px;top:420px;width:37px;height:27px;background:#27c852"><div class="t" style="margin-top:0.9px"><span class="n" style="font-size:6.5px">بیمه</span><span class="p" style="font-size:5.0px;margin-top:0.8px">3.0%</span></div></div>
<div class="c" style="left:1087px;top:449px;width:14px;height:33px;background:#f0292f"></div>
<div class="c" style="left:1103px;top:449px;width:21px;height:17px;background:#27c852"><div class="t" style="margin-top:0.7px"><span class="n" style="font-size:5.2px">کرام</span></div></div>
<div class="c" style="left:1103px;top:468px;width:21px;height:14px;background:#3d4a4d"></div>
<div class="ti" style="left:629px;top:484px;width:426px;font-size:10.5px">مواد پایه</div>
<div class="h" style="left:629px;top:500px;width:234px;height:13px;background:#29c955;font-size:8.5px;line-height:13px;color:#fff">کانی های فلزی</div>
<div class="c" style="left:629px;top:514px;width:191px;height:194px;background:#2caa4a"><div class="t" style="margin-top:12.0px"><span class="n" style="font-size:51.0px">فزر</span><span class="p" style="font-size:35.0px;margin-top:5.2px">2.4%</span><span class="v" style="font-size:24.5px">102,950</span></div></div>
<div class="c" style="left:822px;top:514px;width:41px;height:85px;background:#27c852"><div class="t" style="margin-top:1.3px"><span class="n" style="font-size:11.2px">کچاد</span><span class="p" style="font-size:7.5px;margin-top:1.1px">3.0%</span><span class="v" style="font-size:5.2px">2,880</span></div></div>
<div class="c" style="left:822px;top:601px;width:41px;height:39px;background:#3d4a4b"><div class="t" style="margin-top:1.3px"><span class="n" style="font-size:10.5px">کگل</span><span class="p" style="font-size:7.0px;margin-top:1.1px">0.4%</span><span class="v" style="font-size:4.9px">2,394</span></div></div>
<div class="c" style="left:822px;top:643px;width:41px;height:20px;background:#27c852"><div class="t" style="margin-top:0.8px"><span class="n" style="font-size:5.9px">کنور</span></div></div>
<div class="c" style="left:822px;top:665px;width:21px;height:21px;background:#27c852"><div class="t" style="margin-top:0.7px"><span class="n" style="font-size:5.2px">کروی</span></div></div>
<div class="c" style="left:845px;top:665px;width:18px;height:21px;background:#27c852"><div class="t" style="margin-top:0.7px"><span class="n" style="font-size:5.2px">کاما</span></div></div>
<div class="c" style="left:822px;top:688px;width:16px;height:20px;background:#27c852"><div class="t" style="margin-top:0.7px"><span class="n" style="font-size:5.2px">اسفر</span></div></div>
<div class="c" style="left:840px;top:688px;width:8px;height:20px;background:#27c852"></div>
<div class="c" style="left:850px;top:688px;width:13px;height:9px;background:#3d4a4d"></div>
<div class="c" style="left:850px;top:699px;width:13px;height:9px;background:#27c852"></div>
<div class="h" style="left:629px;top:713px;width:234px;height:13px;background:#29c955;font-size:8.5px;line-height:13px;color:#fff">مواد شیمیایی-متنوع</div>
<div class="c" style="left:629px;top:727px;width:118px;height:88px;background:#2caa4a"><div class="t" style="margin-top:3.0px"><span class="n" style="font-size:24.8px">نوری</span><span class="p" style="font-size:16.5px;margin-top:2.5px">2.4%</span><span class="v" style="font-size:11.5px">46,090</span></div></div>
<div class="c" style="left:629px;top:818px;width:118px;height:43px;background:#27c852"><div class="t" style="margin-top:1.4px"><span class="n" style="font-size:12.0px">شکوبیا</span><span class="p" style="font-size:8.0px;margin-top:1.2px">3.0%</span><span class="v" style="font-size:5.6px">11,190</span></div></div>
<div class="c" style="left:749px;top:727px;width:49px;height:35px;background:#2dbd4e"><div class="t" style="margin-top:1.3px"><span class="n" style="font-size:10.5px">شیران</span><span class="p" style="font-size:7.0px;margin-top:1.1px">2.0%</span></div></div>
<div class="c" style="left:800px;top:727px;width:35px;height:35px;background:#27c852"><div class="t" style="margin-top:1.3px"><span class="n" style="font-size:10.5px">مارون</span><span class="p" style="font-size:7.0px;margin-top:1.1px">3.3%</span></div></div>
<div class="c" style="left:838px;top:727px;width:25px;height:35px;background:#27c852"><div class="t" style="margin-top:0.9px"><span class="n" style="font-size:6.5px">شپنا</span><span class="p" style="font-size:5.0px;margin-top:0.8px">3.0%</span></div></div>
<div class="c" style="left:749px;top:765px;width:49px;height:26px;background:#27c852"><div class="t" style="margin-top:1.0px"><span class="n" style="font-size:7.2px">بوعلی</span><span class="p" style="font-size:5.5px;margin-top:0.8px">3.0%</span></div></div>
<div class="c" style="left:800px;top:765px;width:35px;height:26px;background:#e72d32"><div class="t" style="margin-top:1.0px"><span class="n" style="font-size:7.2px">شگستر</span><span class="p" style="font-size:5.5px;margin-top:0.8px">-3.0%</span></div></div>
<div class="c" style="left:838px;top:765px;width:25px;height:26px;background:#27c852"><div class="t" style="margin-top:0.9px"><span class="n" style="font-size:6.5px">پارس</span><span class="p" style="font-size:5.0px;margin-top:0.8px">3.0%</span></div></div>
<div class="c" style="left:749px;top:793px;width:18px;height:32px;background:#d83a3d"><div class="t" style="margin-top:0.7px"><span class="n" style="font-size:5.2px">کازرس</span></div></div>
<div class="c" style="left:769px;top:793px;width:17px;height:32px;background:#2e9448"><div class="t" style="margin-top:0.7px"><span class="n" style="font-size:5.2px">شفارس</span></div></div>
<div class="c" style="left:789px;top:793px;width:17px;height:32px;background:#a83a40"><div class="t" style="margin-top:0.7px"><span class="n" style="font-size:5.2px">شفن</span></div></div>
<div class="c" style="left:749px;top:827px;width:30px;height:17px;background:#a83a40"><div class="t" style="margin-top:0.8px"><span class="n" style="font-size:5.9px">شاملا</span></div></div>
<div class="c" style="left:781px;top:827px;width:25px;height:17px;background:#2e9448"><div class="t" style="margin-top:0.8px"><span class="n" style="font-size:5.9px">شکلر</span></div></div>
<div class="c" style="left:749px;top:846px;width:30px;height:15px;background:#27c852"></div>
<div class="c" style="left:781px;top:846px;width:25px;height:15px;background:#2e9448"></div>
<div class="h" style="left:868px;top:500px;width:182px;height:13px;background:#29c955;font-size:8.5px;line-height:13px;color:#fff">آهن و فولاد</div>
<div class="c" style="left:868px;top:514px;width:97px;height:175px;background:#27c852"><div class="t" style="margin-top:3.1px"><span class="n" style="font-size:29.0px">فولاد</span><span class="p" style="font-size:17.5px;margin-top:2.6px">2.9%</span><span class="v" style="font-size:12.2px">3,698</span></div></div>
<div class="c" style="left:967px;top:515px;width:83px;height:33px;background:#4f3b4a"><div class="t" style="margin-top:1.3px"><span class="n" style="font-size:10.5px">ذوب</span><span class="p" style="font-size:7.0px;margin-top:1.1px">-0.2%</span></div></div>
<div class="c" style="left:967px;top:551px;width:44px;height:54px;background:#27c852"><div class="t" style="margin-top:1.4px"><span class="n" style="font-size:12.0px">فخوز</span><span class="p" style="font-size:8.0px;margin-top:1.2px">3.0%</span><span class="v" style="font-size:5.6px">1,681</span></div></div>
<div class="c" style="left:1013px;top:551px;width:37px;height:26px;background:#27c852"><div class="t" style="margin-top:0.9px"><span class="n" style="font-size:6.5px">فسپا</span><span class="p" style="font-size:5.0px;margin-top:0.8px">2.0%</span></div></div>
<div class="c" style="left:1013px;top:580px;width:37px;height:25px;background:#27c852"><div class="t" style="margin-top:0.9px"><span class="n" style="font-size:6.5px">فجر</span><span class="p" style="font-size:5.0px;margin-top:0.8px">2.0%</span></div></div>
<div class="c" style="left:967px;top:608px;width:41px;height:19px;background:#e72d32"><div class="t" style="margin-top:0.7px"><span class="n" style="font-size:5.2px">هرمز</span></div></div>
<div class="c" style="left:1011px;top:608px;width:19px;height:20px;background:#27c852"><div class="t" style="margin-top:0.7px"><span class="n" style="font-size:5.2px">فسرو</span></div></div>
<div class="c" style="left:1032px;top:608px;width:18px;height:14px;background:#27c852"></div>
<div class="c" style="left:967px;top:629px;width:20px;height:24px;background:#3a4f4a"><div class="t" style="margin-top:0.7px"><span class="n" style="font-size:5.2px">فسپایا</span></div></div>
<div class="c" style="left:989px;top:629px;width:19px;height:24px;background:#3f4a4e"><div class="t" style="margin-top:0.7px"><span class="n" style="font-size:5.2px">کاوه</span></div></div>
<div class="c" style="left:1011px;top:630px;width:19px;height:15px;background:#27c852"></div>
<div class="c" style="left:1032px;top:624px;width:18px;height:10px;background:#3f5d4d"></div>
<div class="c" style="left:1032px;top:636px;width:18px;height:9px;background:#27c852"></div>
<div class="c" style="left:967px;top:656px;width:13px;height:33px;background:#e72d32"></div>
<div class="c" style="left:982px;top:656px;width:26px;height:15px;background:#5a3b48"></div>
<div class="c" style="left:982px;top:673px;width:26px;height:16px;background:#27c852"></div>
<div class="h" style="left:868px;top:694px;width:108px;height:13px;background:#29c955;font-size:8.5px;line-height:13px;color:#fff">تولید فلزات گرانبهای غیرآهن</div>
<div class="c" style="left:868px;top:708px;width:108px;height:75px;background:#2f5a45"><div class="t" style="margin-top:2.6px"><span class="n" style="font-size:23.0px">فملی</span><span class="p" style="font-size:14.5px;margin-top:2.2px">0.7%</span><span class="v" style="font-size:10.1px">10,950</span></div></div>
<div class="c" style="left:868px;top:786px;width:51px;height:36px;background:#27c852"><div class="t" style="margin-top:1.3px"><span class="n" style="font-size:10.5px">فباهنر</span><span class="p" style="font-size:7.0px;margin-top:1.1px">2.9%</span></div></div>
<div class="c" style="left:922px;top:786px;width:36px;height:39px;background:#27c852"><div class="t" style="margin-top:1.3px"><span class="n" style="font-size:10.5px">فایرا</span><span class="p" style="font-size:7.0px;margin-top:1.1px">3.0%</span></div></div>
<div class="c" style="left:961px;top:786px;width:15px;height:39px;background:#27c852"><div class="t" style="margin-top:0.6px"><span class="n" style="font-size:4.5px">فسرب</span></div></div>
<div class="c" style="left:868px;top:825px;width:51px;height:36px;background:#27c852"><div class="t" style="margin-top:1.3px"><span class="n" style="font-size:10.5px">آلومینا</span><span class="p" style="font-size:7.0px;margin-top:1.1px">3.0%</span></div></div>
<div class="h" style="left:982px;top:694px;width:68px;height:13px;background:#29c955;font-size:8.5px;line-height:13px;color:#fff">... و ترکیبات نیتروژن</div>
<div class="c" style="left:982px;top:708px;width:68px;height:59px;background:#ec2b31"><div class="t" style="margin-top:2.0px"><span class="n" style="font-size:16.5px">شیراز</span><span class="p" style="font-size:11.0px;margin-top:1.6px">-3.0%</span><span class="v" style="font-size:7.7px">40,380</span></div></div>
<div class="c" style="left:982px;top:770px;width:42px;height:27px;background:#27c852"><div class="t" style="margin-top:0.9px"><span class="n" style="font-size:6.5px">خراسان</span><span class="p" style="font-size:5.0px;margin-top:0.8px">3.0%</span></div></div>
<div class="c" style="left:1027px;top:770px;width:23px;height:19px;background:#3d454d"><div class="t" style="margin-top:0.6px"><span class="n" style="font-size:4.5px">کرمانشا</span></div></div>
<div class="c" style="left:1027px;top:791px;width:23px;height:7px;background:#2e8a47"></div>
<div class="h" style="left:982px;top:802px;width:41px;height:13px;background:#2e7a45;font-size:11px;line-height:13px;color:#fff">چوب</div>
<div class="c" style="left:982px;top:817px;width:36px;height:18px;background:#e72d32"><div class="t" style="margin-top:0.7px"><span class="n" style="font-size:5.2px">چوپا</span></div></div>
<div class="c" style="left:1020px;top:817px;width:3px;height:15px;background:#27c852"></div>
<div class="h" style="left:1027px;top:802px;width:23px;height:13px;background:#29c955;font-size:9px;line-height:13px;color:#fff">...دلی</div>
<div class="c" style="left:1027px;top:817px;width:22px;height:15px;background:#27c852"></div>
<div class="h" style="left:982px;top:840px;width:41px;height:12px;background:#29c955;font-size:9px;line-height:12px;color:#fff">...ت کاغذی</div>
<div class="h" style="left:1027px;top:838px;width:23px;height:14px;background:#e72d32;font-size:9px;line-height:14px;color:#fff">...سنگ</div>
<div class="ti" style="left:1062px;top:484px;width:138px;font-size:10.5px">صنعتی</div>
<div class="h" style="left:1063px;top:500px;width:137px;height:13px;background:#29c955;font-size:8.5px;line-height:13px;color:#fff">سیمان، آهک و گچ</div>
<div class="c" style="left:1063px;top:515px;width:24px;height:61px;background:#3a4a48"><div class="t" style="margin-top:0.7px"><span class="n" style="font-size:5.2px">ستران</span><span class="p" style="font-size:4.0px;margin-top:0.6px">0.4%</span></div></div>
<div class="c" style="left:1089px;top:515px;width:45px;height:32px;background:#27c852"><div class="t" style="margin-top:0.9px"><span class="n" style="font-size:6.5px">سشرق</span><span class="p" style="font-size:5.0px;margin-top:0.8px">3.0%</span></div></div>
<div class="c" style="left:1089px;top:550px;width:45px;height:26px;background:#e4353a"><div class="t" style="margin-top:0.9px"><span class="n" style="font-size:6.5px">سبالر</span><span class="p" style="font-size:5.0px;margin-top:0.8px">-2.0%</span></div></div>
<div class="c" style="left:1137px;top:515px;width:35px;height:18px;background:#5a3b48"><div class="t" style="margin-top:0.7px"><span class="n" style="font-size:5.2px">سکرما</span></div></div>
<div class="c" style="left:1174px;top:515px;width:26px;height:19px;background:#27c852"><div class="t" style="margin-top:0.7px"><span class="n" style="font-size:5.2px">سرود</span></div></div>
<div class="c" style="left:1137px;top:536px;width:17px;height:36px;background:#27c852"><div class="t" style="margin-top:0.6px"><span class="n" style="font-size:4.5px">سمتاز</span></div></div>
<div class="c" style="left:1157px;top:536px;width:15px;height:36px;background:#d8393c"></div>
<div class="c" style="left:1174px;top:536px;width:26px;height:20px;background:#e4353a"><div class="t" style="margin-top:0.7px"><span class="n" style="font-size:5.2px">سخاش</span></div></div>
<div class="c" style="left:1174px;top:559px;width:26px;height:13px;background:#27c852"></div>
<div class="c" style="left:1063px;top:579px;width:34px;height:26px;background:#a83a40"><div class="t" style="margin-top:0.9px"><span class="n" style="font-size:6.5px">سپاها</span><span class="p" style="font-size:5.0px;margin-top:0.8px">-1.9%</span></div></div>
<div class="c" style="left:1100px;top:579px;width:34px;height:26px;background:#e03a3a"><div class="t" style="margin-top:0.9px"><span class="n" style="font-size:6.5px">سصوفی</span><span class="p" style="font-size:5.0px;margin-top:0.8px">-3.0%</span></div></div>
<div class="c" style="left:1063px;top:608px;width:34px;height:26px;background:#a83a40"><div class="t" style="margin-top:0.9px"><span class="n" style="font-size:6.5px">سدور</span><span class="p" style="font-size:5.0px;margin-top:0.8px">-1.7%</span></div></div>
<div class="c" style="left:1100px;top:608px;width:34px;height:26px;background:#27c852"><div class="t" style="margin-top:0.9px"><span class="n" style="font-size:6.5px">ساوه</span><span class="p" style="font-size:5.0px;margin-top:0.8px">2.0%</span></div></div>
<div class="h" style="left:1063px;top:640px;width:137px;height:13px;background:#29c955;font-size:8.5px;line-height:13px;color:#fff">سایر محصولات کانی غیرفلزی</div>
<div class="c" style="left:1063px;top:654px;width:44px;height:28px;background:#27c852"><div class="t" style="margin-top:0.9px"><span class="n" style="font-size:6.5px">کفرا</span><span class="p" style="font-size:5.0px;margin-top:0.8px">3.0%</span></div></div>
<div class="h" style="left:1063px;top:687px;width:50px;height:14px;background:#29c955;font-size:9px;line-height:14px;color:#fff">...سیت مهندسی</div>
<div class="h" style="left:1117px;top:687px;width:44px;height:14px;background:#29c955;font-size:9px;line-height:14px;color:#fff">...ولات فلزی</div>
<div class="h" style="left:1165px;top:687px;width:35px;height:14px;background:#29c955;font-size:9px;line-height:14px;color:#fff">...راه آهن</div>
<div class="c" style="left:1063px;top:702px;width:50px;height:46px;background:#2e7d46"><div class="t" style="margin-top:1.5px"><span class="n" style="font-size:14.0px">کیسون</span><span class="p" style="font-size:8.5px;margin-top:1.3px">1.6%</span><span class="v" style="font-size:5.9px">1,720</span></div></div>
<div class="c" style="left:1063px;top:750px;width:34px;height:16px;background:#37694a"><div class="t" style="margin-top:0.7px"><span class="n" style="font-size:5.2px">رویا</span></div></div>
<div class="c" style="left:1117px;top:702px;width:28px;height:36px;background:#27c852"><div class="t" style="margin-top:0.8px"><span class="n" style="font-size:5.9px">هانیکو</span><span class="p" style="font-size:4.5px;margin-top:0.7px">3.0%</span></div></div>
<div class="c" style="left:1147px;top:702px;width:14px;height:36px;background:#6a3c47"></div>
<div class="c" style="left:1165px;top:702px;width:35px;height:23px;background:#27c852"><div class="t" style="margin-top:0.7px"><span class="n" style="font-size:5.2px">ساهرین</span></div></div>
<div class="c" style="left:1165px;top:727px;width:35px;height:13px;background:#27c852"></div>
<div class="h" style="left:1063px;top:771px;width:55px;height:14px;background:#2e8a47;font-size:9px;line-height:14px;color:#fff">...در و کشتیرانی</div>
<div class="h" style="left:1122px;top:771px;width:39px;height:14px;background:#29c955;font-size:9px;line-height:14px;color:#fff">... سرامیک</div>
<div class="h" style="left:1165px;top:771px;width:35px;height:14px;background:#29c955;font-size:9px;line-height:14px;color:#fff">...ون الات</div>
<div class="c" style="left:1063px;top:787px;width:34px;height:31px;background:#2e6f45"><div class="t" style="margin-top:0.9px"><span class="n" style="font-size:6.5px">حسینا</span><span class="p" style="font-size:5.0px;margin-top:0.8px">1.0%</span></div></div>
<div class="h" style="left:1063px;top:823px;width:55px;height:14px;background:#29c955;font-size:9px;line-height:14px;color:#fff">...الات الکتریکی</div>
<div class="h" style="left:1122px;top:819px;width:25px;height:14px;background:#29c955;font-size:9px;line-height:14px;color:#fff">...ساختی</div>
<div class="h" style="left:1152px;top:819px;width:22px;height:14px;background:#2e9448;font-size:9px;line-height:14px;color:#fff">...بلی</div>
<div class="h" style="left:1180px;top:819px;width:20px;height:14px;background:#29c955;font-size:9px;line-height:14px;color:#fff">...ستی</div>
<div class="ti" style="left:629px;top:864px;width:243px;font-size:10.5px">مصرفی دوره ای</div>
<div class="h" style="left:629px;top:880px;width:137px;height:13px;background:#29c955;font-size:8.5px;line-height:13px;color:#fff">خودرو</div>
<div class="h" style="left:773px;top:880px;width:98px;height:13px;background:#29c955;font-size:8.5px;line-height:13px;color:#fff">قطعات خودرو</div>
<div class="c" style="left:629px;top:894px;width:92px;height:83px;background:#6b3a45"><div class="t" style="margin-top:2.8px"><span class="n" style="font-size:23.2px">خودرو</span><span class="p" style="font-size:15.5px;margin-top:2.3px">-0.7%</span><span class="v" style="font-size:10.8px">614</span></div></div>
<div class="c" style="left:724px;top:894px;width:42px;height:83px;background:#6b3a45"><div class="t" style="margin-top:1.4px"><span class="n" style="font-size:12.0px">خساپا</span><span class="p" style="font-size:8.0px;margin-top:1.2px">-0.6%</span><span class="v" style="font-size:5.6px">590</span></div></div>
<div class="c" style="left:629px;top:980px;width:40px;height:68px;background:#27c852"><div class="t" style="margin-top:1.3px"><span class="n" style="font-size:11.2px">خزامیا</span><span class="p" style="font-size:7.5px;margin-top:1.1px">3.0%</span><span class="v" style="font-size:5.2px">7,800</span></div></div>
<div class="c" style="left:672px;top:980px;width:38px;height:68px;background:#27c852"><div class="t" style="margin-top:1.3px"><span class="n" style="font-size:10.5px">خدیزل</span><span class="p" style="font-size:7.0px;margin-top:1.1px">3.0%</span><span class="v" style="font-size:4.9px">9,690</span></div></div>
<div class="c" style="left:712px;top:980px;width:54px;height:33px;background:#27c852"><div class="t" style="margin-top:1.1px"><span class="n" style="font-size:7.8px">خاور</span><span class="p" style="font-size:6.0px;margin-top:0.9px">3.0%</span></div></div>
<div class="c" style="left:712px;top:1016px;width:27px;height:32px;background:#27c852"><div class="t" style="margin-top:0.8px"><span class="n" style="font-size:5.9px">خشکوه</span><span class="p" style="font-size:4.5px;margin-top:0.7px">3.0%</span></div></div>
<div class="c" style="left:742px;top:1016px;width:24px;height:32px;background:#27c852"><div class="t" style="margin-top:0.8px"><span class="n" style="font-size:5.9px">خمادس</span><span class="p" style="font-size:4.5px;margin-top:0.7px">3.0%</span></div></div>
<div class="c" style="left:773px;top:894px;width:46px;height:32px;background:#27c852"><div class="t" style="margin-top:1.1px"><span class="n" style="font-size:7.8px">خکار</span><span class="p" style="font-size:6.0px;margin-top:0.9px">3.0%</span></div></div>
<div class="c" style="left:821px;top:894px;width:19px;height:19px;background:#27c852"><div class="t" style="margin-top:0.6px"><span class="n" style="font-size:4.5px">خمحرکه</span></div></div>
<div class="c" style="left:821px;top:915px;width:19px;height:18px;background:#27c852"><div class="t" style="margin-top:0.6px"><span class="n" style="font-size:4.5px">خلنت</span></div></div>
<div class="c" style="left:842px;top:894px;width:16px;height:22px;background:#a8393e"><div class="t" style="margin-top:0.6px"><span class="n" style="font-size:4.5px">خمهر</span></div></div>
<div class="c" style="left:860px;top:894px;width:11px;height:22px;background:#e72d32"></div>
<div class="c" style="left:842px;top:918px;width:16px;height:15px;background:#9a3a40"></div>
<div class="c" style="left:860px;top:918px;width:11px;height:15px;background:#e72d32"></div>
<div class="c" style="left:773px;top:928px;width:23px;height:21px;background:#27c852"><div class="t" style="margin-top:0.7px"><span class="n" style="font-size:5.2px">خمور</span></div></div>
<div class="c" style="left:798px;top:928px;width:21px;height:21px;background:#27c852"><div class="t" style="margin-top:0.7px"><span class="n" style="font-size:5.2px">خمحور</span></div></div>
<div class="c" style="left:773px;top:951px;width:23px;height:19px;background:#d83a3c"><div class="t" style="margin-top:0.7px"><span class="n" style="font-size:5.2px">خفنر</span></div></div>
<div class="c" style="left:798px;top:951px;width:21px;height:19px;background:#b03a3e"><div class="t" style="margin-top:0.6px"><span class="n" style="font-size:4.5px">خموتور</span></div></div>
<div class="h" style="left:773px;top:975px;width:33px;height:15px;background:#29c955;font-size:9px;line-height:15px;color:#fff">...لاستیک</div>
<div class="h" style="left:811px;top:975px;width:60px;height:15px;background:#29c955;font-size:9px;line-height:15px;color:#fff">وسایل خانگی</div>
<div class="h" style="left:811px;top:1010px;width:34px;height:14px;background:#29c955;font-size:9px;line-height:14px;color:#fff">... کننده</div>
<div class="h" style="left:849px;top:1010px;width:22px;height:14px;background:#29c955;font-size:9px;line-height:14px;color:#fff">...وران</div>
<div class="ti" style="left:883px;top:864px;width:162px;font-size:10.5px">بهداشتی</div>
<div class="h" style="left:883px;top:879px;width:162px;height:13px;background:#29c955;font-size:8.5px;line-height:13px;color:#fff">دارویی</div>
<div class="c" style="left:883px;top:894px;width:109px;height:88px;background:#27c852"><div class="t" style="margin-top:3.0px"><span class="n" style="font-size:24.8px">داترا</span><span class="p" style="font-size:16.5px;margin-top:2.5px">2.9%</span><span class="v" style="font-size:11.5px">6,070</span></div></div>
<div class="c" style="left:995px;top:894px;width:50px;height:88px;background:#27c852"><div class="t" style="margin-top:1.6px"><span class="n" style="font-size:13.5px">دعبید</span><span class="p" style="font-size:9.0px;margin-top:1.3px">3.0%</span><span class="v" style="font-size:6.3px">9,880</span></div></div>
<div class="c" style="left:883px;top:985px;width:45px;height:49px;background:#27c852"><div class="t" style="margin-top:1.4px"><span class="n" style="font-size:12.0px">دارو</span><span class="p" style="font-size:8.0px;margin-top:1.2px">3.0%</span><span class="v" style="font-size:5.6px">2,652</span></div></div>
<div class="c" style="left:931px;top:985px;width:31px;height:49px;background:#27c852"><div class="t" style="margin-top:1.0px"><span class="n" style="font-size:7.2px">دزاگرس</span><span class="p" style="font-size:5.5px;margin-top:0.8px">3.0%</span></div></div>
<div class="c" style="left:964px;top:985px;width:38px;height:14px;background:#e72d32"></div>
<div class="c" style="left:1004px;top:985px;width:19px;height:18px;background:#2f6a45"><div class="t" style="margin-top:0.6px"><span class="n" style="font-size:4.5px">دلقما</span></div></div>
<div class="c" style="left:1025px;top:985px;width:20px;height:18px;background:#27c852"><div class="t" style="margin-top:0.6px"><span class="n" style="font-size:4.5px">دجابر</span></div></div>
<div class="c" style="left:964px;top:1002px;width:18px;height:28px;background:#5a3b48"><div class="t" style="margin-top:0.6px"><span class="n" style="font-size:4.5px">داسوه</span></div></div>
<div class="c" style="left:985px;top:1002px;width:17px;height:28px;background:#27c852"><div class="t" style="margin-top:0.6px"><span class="n" style="font-size:4.5px">دسبحا</span></div></div>
<div class="c" style="left:1004px;top:1005px;width:12px;height:25px;background:#4a3d4a"></div>
<div class="c" style="left:1018px;top:1005px;width:12px;height:25px;background:#27c852"></div>
<div class="c" style="left:1032px;top:1005px;width:13px;height:25px;background:#9a3a40"></div>
<div class="c" style="left:883px;top:1037px;width:23px;height:40px;background:#27c852"><div class="t" style="margin-top:0.7px"><span class="n" style="font-size:5.2px">کاسپین</span><span class="p" style="font-size:4.0px;margin-top:0.6px">2.0%</span></div></div>
<div class="c" style="left:909px;top:1037px;width:19px;height:40px;background:#27c852"><div class="t" style="margin-top:0.6px"><span class="n" style="font-size:4.5px">تسیدعی</span></div></div>
<div class="c" style="left:931px;top:1037px;width:31px;height:19px;background:#e72d32"><div class="t" style="margin-top:0.7px"><span class="n" style="font-size:5.2px">دافسا</span></div></div>
<div class="c" style="left:931px;top:1059px;width:31px;height:18px;background:#27c852"><div class="t" style="margin-top:0.6px"><span class="n" style="font-size:4.5px">دپارس</span></div></div>
<div class="ti" style="left:1056px;top:864px;width:144px;font-size:10.5px">مصرفی غیردوره ای</div>
<div class="h" style="left:1056px;top:880px;width:70px;height:13px;background:#29c955;font-size:9px;line-height:13px;color:#fff">... محصولات غذایی</div>
<div class="h" style="left:1131px;top:880px;width:69px;height:13px;background:#29c955;font-size:9px;line-height:13px;color:#fff">...اورزی و دامپروری</div>
<div class="c" style="left:1056px;top:894px;width:42px;height:56px;background:#2e7444"><div class="t" style="margin-top:1.4px"><span class="n" style="font-size:12.0px">کوچین</span><span class="p" style="font-size:8.0px;margin-top:1.2px">1.5%</span><span class="v" style="font-size:5.6px">21,400</span></div></div>
<div class="c" style="left:1101px;top:894px;width:25px;height:32px;background:#27c852"><div class="t" style="margin-top:0.7px"><span class="n" style="font-size:5.2px">غشهداب</span><span class="p" style="font-size:4.0px;margin-top:0.6px">2.9%</span></div></div>
<div class="c" style="left:1101px;top:928px;width:25px;height:22px;background:#a0383e"><div class="t" style="margin-top:0.7px"><span class="n" style="font-size:5.2px">غدیس</span></div></div>
<div class="c" style="left:1131px;top:894px;width:36px;height:29px;background:#27c852"><div class="t" style="margin-top:0.8px"><span class="n" style="font-size:5.9px">زکشت</span><span class="p" style="font-size:4.5px;margin-top:0.7px">2.4%</span></div></div>
<div class="c" style="left:1170px;top:894px;width:30px;height:29px;background:#b0393e"><div class="t" style="margin-top:0.8px"><span class="n" style="font-size:5.9px">زماهان</span><span class="p" style="font-size:4.5px;margin-top:0.7px">-1.0%</span></div></div>
<div class="c" style="left:1131px;top:925px;width:36px;height:21px;background:#27c852"><div class="t" style="margin-top:0.7px"><span class="n" style="font-size:5.2px">زکوثر</span></div></div>
<div class="c" style="left:1170px;top:925px;width:30px;height:21px;background:#a8393e"><div class="t" style="margin-top:0.7px"><span class="n" style="font-size:5.2px">زفارس</span><span class="p" style="font-size:4.0px;margin-top:0.6px">-1.5%</span></div></div>
<div class="h" style="left:1056px;top:1006px;width:64px;height:14px;background:#29c955;font-size:9px;line-height:14px;color:#fff">شیرینیجات</div>
<div class="h" style="left:1125px;top:1006px;width:24px;height:14px;background:#29c955;font-size:9px;line-height:14px;color:#fff">... لبنی</div>
<div class="h" style="left:1154px;top:1006px;width:46px;height:14px;background:#29c955;font-size:9px;line-height:14px;color:#fff">...سیله موتوری</div>
<div class="h" style="left:1056px;top:1049px;width:64px;height:13px;background:#29c955;font-size:9px;line-height:13px;color:#fff">شکر</div>
<div class="h" style="left:1154px;top:1039px;width:33px;height:15px;background:#29c955;font-size:9px;line-height:15px;color:#fff">نساجی</div>
<div class="h" style="left:1190px;top:1039px;width:10px;height:15px;background:#29c955;font-size:9px;line-height:15px;color:#fff">ی</div>
<div class="ti" style="left:629px;top:1049px;width:243px;font-size:10.5px">انرژی</div>
<div class="h" style="left:629px;top:1066px;width:229px;height:14px;background:#29c955;font-size:8.5px;line-height:14px;color:#fff">فراورده های نفتی</div>
<div class="h" style="left:862px;top:1066px;width:10px;height:14px;background:#3d4550;font-size:8.5px;line-height:14px;color:#fff">ی</div>
<div class="c" style="left:862px;top:1082px;width:10px;height:118px;background:#27c852"></div>
<div class="c" style="left:629px;top:1082px;width:70px;height:118px;background:#2c9a48"><div class="t" style="margin-top:2.4px"><span class="n" style="font-size:20.2px">شبندر</span><span class="p" style="font-size:13.5px;margin-top:2.0px">2.2%</span><span class="v" style="font-size:9.4px">5,690</span></div></div>
<div class="c" style="left:701px;top:1082px;width:51px;height:118px;background:#b83a3f"><div class="t" style="margin-top:1.7px"><span class="n" style="font-size:14.2px">شتران</span><span class="p" style="font-size:9.5px;margin-top:1.4px">-1.8%</span><span class="v" style="font-size:6.6px">3,264</span></div></div>
<div class="c" style="left:754px;top:1082px;width:104px;height:58px;background:#6b3a45"><div class="t" style="margin-top:1.8px"><span class="n" style="font-size:15.0px">شپنا</span><span class="p" style="font-size:10.0px;margin-top:1.5px">-0.5%</span><span class="v" style="font-size:7.0px">5,670</span></div></div>
<div class="c" style="left:754px;top:1143px;width:43px;height:57px;background:#27c852"><div class="t" style="margin-top:1.4px"><span class="n" style="font-size:12.0px">شسپا</span><span class="p" style="font-size:8.0px;margin-top:1.2px">2.9%</span><span class="v" style="font-size:5.6px">8,920</span></div></div>
<div class="c" style="left:799px;top:1143px;width:32px;height:34px;background:#9c3a40"><div class="t" style="margin-top:1.0px"><span class="n" style="font-size:7.2px">شبریز</span><span class="p" style="font-size:5.5px;margin-top:0.8px">-1.8%</span></div></div>
<div class="c" style="left:833px;top:1143px;width:25px;height:34px;background:#27c852"><div class="t" style="margin-top:0.8px"><span class="n" style="font-size:5.9px">شیوش</span><span class="p" style="font-size:4.5px;margin-top:0.7px">3.0%</span></div></div>
<div class="c" style="left:799px;top:1180px;width:16px;height:20px;background:#b8393f"><div class="t" style="margin-top:0.6px"><span class="n" style="font-size:4.5px">شراز</span></div></div>
<div class="c" style="left:817px;top:1180px;width:14px;height:20px;background:#8a3a40"><div class="t" style="margin-top:0.5px"><span class="n" style="font-size:3.9px">شفارس</span></div></div>
<div class="c" style="left:833px;top:1180px;width:25px;height:8px;background:#27c852"></div>
<div class="c" style="left:833px;top:1190px;width:12px;height:10px;background:#8a3a40"></div>
<div class="c" style="left:847px;top:1190px;width:11px;height:10px;background:#27c852"></div>
<div class="ti" style="left:878px;top:1084px;width:82px;font-size:10.5px">املاک و مستغلات</div>
<div class="ti" style="left:962px;top:1084px;width:72px;font-size:10.5px">...اق درآمد ثابت</div>
<div class="ti" style="left:1040px;top:1084px;width:72px;font-size:10.5px">تکنولوژی</div>
<div class="ti" style="left:1122px;top:1084px;width:78px;font-size:10.5px">خدمات ارتباطی</div>
<div class="h" style="left:883px;top:1098px;width:71px;height:15px;background:#29c955;font-size:9px;line-height:15px;color:#fff">... املاک و مستغلات</div>
<div class="h" style="left:966px;top:1098px;width:65px;height:15px;background:#e72d32;font-size:10px;line-height:15px;color:#fff">اوراق کوپنی</div>
<div class="h" style="left:1044px;top:1098px;width:65px;height:15px;background:#29c955;font-size:9.5px;line-height:15px;color:#fff">نرم افزار و خدمات</div>
<div class="h" style="left:1120px;top:1098px;width:80px;height:15px;background:#29c955;font-size:9.5px;line-height:15px;color:#fff">مخابرات</div>
<div class="c" style="left:884px;top:1115px;width:34px;height:45px;background:#27c852"><div class="t" style="margin-top:1.1px"><span class="n" style="font-size:7.8px">ثتارس</span><span class="p" style="font-size:6.0px;margin-top:0.9px">2.0%</span></div></div>
<div class="c" style="left:920px;top:1115px;width:34px;height:21px;background:#27c852"><div class="t" style="margin-top:0.7px"><span class="n" style="font-size:5.2px">ثالوند</span></div></div>
<div class="c" style="left:920px;top:1139px;width:34px;height:21px;background:#3a5a4a"><div class="t" style="margin-top:0.7px"><span class="n" style="font-size:5.2px">ثشرق</span></div></div>
<div class="c" style="left:966px;top:1115px;width:64px;height:38px;background:#4f3f4d"><div class="t" style="margin-top:1.3px"><span class="n" style="font-size:11.0px">اراد250</span><span class="p" style="font-size:7.5px;margin-top:1.1px">-0.3%</span></div></div>
<div class="h" style="left:966px;top:1158px;width:65px;height:13px;background:#3a6a4a;font-size:10px;line-height:13px;color:#fff">اوراق خزانه</div>
<div class="c" style="left:1120px;top:1115px;width:29px;height:29px;background:#27c852"><div class="t" style="margin-top:0.9px"><span class="n" style="font-size:6.5px">اخابر</span><span class="p" style="font-size:5.0px;margin-top:0.8px">2.0%</span></div></div>
<div class="c" style="left:1151px;top:1115px;width:4px;height:29px;background:#27c852"></div>
<div class="c" style="left:1157px;top:1115px;width:24px;height:29px;background:#27c852"><div class="t" style="margin-top:0.7px"><span class="n" style="font-size:5.2px">آسیاتک</span><span class="p" style="font-size:4.0px;margin-top:0.6px">2.0%</span></div></div>
<div class="c" style="left:1184px;top:1115px;width:16px;height:22px;background:#27c852"><div class="t" style="margin-top:0.5px"><span class="n" style="font-size:3.9px">همراه</span></div></div>
<div class="c" style="left:1184px;top:1139px;width:8px;height:5px;background:#3f4d4e"></div>
<div class="c" style="left:1194px;top:1139px;width:6px;height:5px;background:#27c852"></div>
<div class="ti" style="left:1122px;top:1148px;width:78px;font-size:10.5px">خدمات رفاهی</div>
<div class="h" style="left:1120px;top:1162px;width:67px;height:16px;background:#8c3d4a;font-size:9.5px;line-height:16px;color:#fff">خدمات رفاهی-بین...</div>
<div class="h" style="left:1192px;top:1162px;width:8px;height:16px;background:#3f5a4d;font-size:9px;line-height:16px;color:#fff">ع</div>
<div class="h" style="left:1044px;top:1154px;width:54px;height:14px;background:#e72d32;font-size:9.5px;line-height:14px;color:#fff">...زار و تجهیزات</div>
<div class="h" style="left:1104px;top:1154px;width:5px;height:14px;background:#29c955;font-size:8px;line-height:14px;color:#fff">ا</div>
<div class="c" style="left:1104px;top:1170px;width:5px;height:30px;background:#27c852"></div>
<div class="c" style="left:1044px;top:1170px;width:30px;height:30px;background:#e72d32"><div class="t" style="margin-top:1.1px"><span class="n" style="font-size:7.8px">مادیرا</span><span class="p" style="font-size:6.0px;margin-top:0.9px">-2.3%</span></div></div>
<div class="c" style="left:1077px;top:1170px;width:21px;height:30px;background:#e72d32"><div class="t" style="margin-top:0.7px"><span class="n" style="font-size:5.2px">تبلان</span></div></div>
<div class="c" style="left:877px;top:370px;width:22px;height:12px;background:#3f4a4e"></div>
<div class="c" style="left:901px;top:370px;width:18px;height:11px;background:#27c852"></div>
<div class="c" style="left:921px;top:370px;width:14px;height:12px;background:#27c852"></div>
<div class="c" style="left:938px;top:370px;width:21px;height:6px;background:#27c852"></div>
<div class="c" style="left:938px;top:379px;width:9px;height:15px;background:#3f4a4e"></div>
<div class="c" style="left:950px;top:379px;width:9px;height:15px;background:#27c852"></div>
<div class="c" style="left:877px;top:384px;width:22px;height:10px;background:#27c852"></div>
<div class="c" style="left:901px;top:384px;width:18px;height:10px;background:#3f5d4d"></div>
<div class="c" style="left:921px;top:384px;width:14px;height:10px;background:#3f4a4e"></div>
<div class="c" style="left:877px;top:398px;width:17px;height:12px;background:#27c852"></div>
<div class="c" style="left:895px;top:398px;width:24px;height:6px;background:#2e7a45"></div>
<div class="c" style="left:921px;top:398px;width:18px;height:6px;background:#e92e33"></div>
<div class="c" style="left:942px;top:398px;width:17px;height:7px;background:#2e7a45"></div>
<div class="c" style="left:895px;top:407px;width:11px;height:17px;background:#553d4a"></div>
<div class="c" style="left:908px;top:407px;width:11px;height:17px;background:#e0453a"></div>
<div class="c" style="left:921px;top:407px;width:9px;height:17px;background:#2fae4c"></div>
<div class="c" style="left:931px;top:407px;width:8px;height:17px;background:#27c852"></div>
<div class="c" style="left:942px;top:407px;width:8px;height:17px;background:#27c852"></div>
<div class="c" style="left:952px;top:407px;width:7px;height:17px;background:#6a3c47"></div>
<div class="c" style="left:877px;top:412px;width:17px;height:12px;background:#553d4a"></div>
<div class="c" style="left:877px;top:426px;width:17px;height:7px;background:#6a3c47"></div>
<div class="c" style="left:877px;top:435px;width:8px;height:16px;background:#3f4a4e"></div>
<div class="c" style="left:887px;top:435px;width:7px;height:16px;background:#553d4a"></div>
<div class="c" style="left:896px;top:426px;width:10px;height:11px;background:#6a3c47"></div>
<div class="c" style="left:908px;top:426px;width:10px;height:11px;background:#27c852"></div>
<div class="c" style="left:920px;top:426px;width:8px;height:10px;background:#3f4a4e"></div>
<div class="c" style="left:930px;top:426px;width:8px;height:10px;background:#553d4a"></div>
<div class="c" style="left:941px;top:426px;width:5px;height:12px;background:#6a3c47"></div>
<div class="c" style="left:948px;top:426px;width:11px;height:6px;background:#3f4a4e"></div>
<div class="c" style="left:948px;top:434px;width:11px;height:5px;background:#6a3c47"></div>
<div class="c" style="left:896px;top:440px;width:10px;height:11px;background:#3f5d4d"></div>
<div class="c" style="left:908px;top:440px;width:10px;height:11px;background:#3f5d4d"></div>
<div class="c" style="left:919px;top:439px;width:6px;height:14px;background:#27c852"></div>
<div class="c" style="left:927px;top:439px;width:11px;height:6px;background:#27c852"></div>
<div class="c" style="left:927px;top:447px;width:11px;height:6px;background:#27c852"></div>
<div class="c" style="left:941px;top:441px;width:5px;height:12px;background:#27c852"></div>
<div class="c" style="left:948px;top:441px;width:11px;height:6px;background:#2e8a47"></div>
<div class="c" style="left:948px;top:449px;width:11px;height:4px;background:#27c852"></div>
<div class="c" style="left:877px;top:453px;width:8px;height:13px;background:#27c852"></div>
<div class="c" style="left:887px;top:453px;width:8px;height:13px;background:#27c852"></div>
<div class="c" style="left:897px;top:453px;width:9px;height:10px;background:#e92e33"></div>
<div class="c" style="left:908px;top:453px;width:10px;height:10px;background:#e92e33"></div>
<div class="c" style="left:919px;top:455px;width:9px;height:6px;background:#6a3c47"></div>
<div class="c" style="left:930px;top:455px;width:8px;height:6px;background:#27c852"></div>
<div class="c" style="left:940px;top:455px;width:7px;height:5px;background:#e92e33"></div>
<div class="c" style="left:950px;top:455px;width:4px;height:5px;background:#3f4a4e"></div>
<div class="c" style="left:955px;top:455px;width:4px;height:5px;background:#27c852"></div>
<div class="c" style="left:877px;top:468px;width:8px;height:13px;background:#27c852"></div>
<div class="c" style="left:887px;top:468px;width:8px;height:13px;background:#27c852"></div>
<div class="c" style="left:897px;top:465px;width:6px;height:16px;background:#3f4a4e"></div>
<div class="c" style="left:905px;top:465px;width:13px;height:7px;background:#3f5d4d"></div>
<div class="c" style="left:905px;top:474px;width:13px;height:7px;background:#e92e33"></div>
<div class="c" style="left:919px;top:463px;width:9px;height:6px;background:#2e7a45"></div>
<div class="c" style="left:919px;top:470px;width:9px;height:5px;background:#6a3c47"></div>
<div class="c" style="left:919px;top:477px;width:9px;height:4px;background:#e92e33"></div>
<div class="c" style="left:930px;top:463px;width:8px;height:6px;background:#2e8a47"></div>
<div class="c" style="left:930px;top:470px;width:8px;height:5px;background:#6a3c47"></div>
<div class="c" style="left:930px;top:477px;width:8px;height:4px;background:#3f4a4e"></div>
<div class="c" style="left:940px;top:463px;width:5px;height:6px;background:#2e8a47"></div>
<div class="c" style="left:947px;top:463px;width:5px;height:6px;background:#2e8a47"></div>
<div class="c" style="left:954px;top:463px;width:5px;height:6px;background:#27c852"></div>
<div class="c" style="left:940px;top:471px;width:5px;height:5px;background:#27c852"></div>
<div class="c" style="left:947px;top:471px;width:5px;height:5px;background:#3f4a4e"></div>
<div class="c" style="left:954px;top:471px;width:5px;height:5px;background:#6a3c47"></div>
<div class="c" style="left:940px;top:478px;width:5px;height:3px;background:#27c852"></div>
<div class="c" style="left:947px;top:478px;width:5px;height:3px;background:#3f4a4e"></div>
<div class="c" style="left:954px;top:478px;width:5px;height:3px;background:#6a3c47"></div>
<div class="c" style="left:1126px;top:421px;width:19px;height:13px;background:#3f4a4e"></div>
<div class="c" style="left:1126px;top:437px;width:19px;height:14px;background:#553d4a"></div>
<div class="c" style="left:1148px;top:421px;width:21px;height:11px;background:#27c852"></div>
<div class="c" style="left:1148px;top:434px;width:10px;height:17px;background:#27c852"></div>
<div class="c" style="left:1160px;top:434px;width:9px;height:17px;background:#27c852"></div>
<div class="c" style="left:1126px;top:452px;width:9px;height:14px;background:#27c852"></div>
<div class="c" style="left:1137px;top:452px;width:9px;height:14px;background:#2e8a47"></div>
<div class="c" style="left:1126px;top:468px;width:7px;height:13px;background:#27c852"></div>
<div class="c" style="left:1136px;top:468px;width:10px;height:6px;background:#27c852"></div>
<div class="c" style="left:1136px;top:476px;width:10px;height:5px;background:#e92e33"></div>
<div class="c" style="left:1149px;top:453px;width:8px;height:5px;background:#8a3a40"></div>
<div class="c" style="left:1159px;top:453px;width:10px;height:4px;background:#2e7a45"></div>
<div class="c" style="left:1149px;top:460px;width:8px;height:6px;background:#8a3a40"></div>
<div class="c" style="left:1159px;top:459px;width:4px;height:7px;background:#2e8a47"></div>
<div class="c" style="left:1165px;top:459px;width:4px;height:7px;background:#6a3c47"></div>
<div class="c" style="left:1149px;top:468px;width:4px;height:6px;background:#27c852"></div>
<div class="c" style="left:1155px;top:468px;width:3px;height:6px;background:#2e8a47"></div>
<div class="c" style="left:1160px;top:468px;width:4px;height:4px;background:#3f4a4e"></div>
<div class="c" style="left:1166px;top:468px;width:3px;height:4px;background:#2e7a45"></div>
<div class="c" style="left:1160px;top:474px;width:9px;height:2px;background:#3f4a4e"></div>
<div class="c" style="left:1149px;top:476px;width:4px;height:5px;background:#3f4a4e"></div>
<div class="c" style="left:1154px;top:476px;width:4px;height:5px;background:#e92e33"></div>
<div class="c" style="left:1160px;top:478px;width:3px;height:3px;background:#27c852"></div>
<div class="c" style="left:1165px;top:478px;width:3px;height:3px;background:#2e8a47"></div>
<div class="c" style="left:1173px;top:421px;width:9px;height:16px;background:#27c852"></div>
<div class="c" style="left:1184px;top:421px;width:16px;height:7px;background:#27c852"></div>
<div class="c" style="left:1184px;top:430px;width:16px;height:7px;background:#e92e33"></div>
<div class="c" style="left:1173px;top:440px;width:7px;height:10px;background:#c03a3f"></div>
<div class="c" style="left:1182px;top:440px;width:3px;height:10px;background:#2e8a47"></div>
<div class="c" style="left:1188px;top:440px;width:3px;height:10px;background:#c03a3f"></div>
<div class="c" style="left:1193px;top:440px;width:7px;height:4px;background:#6a3c47"></div>
<div class="c" style="left:1193px;top:446px;width:7px;height:4px;background:#e92e33"></div>
<div class="c" style="left:1173px;top:452px;width:6px;height:8px;background:#3f5d4d"></div>
<div class="c" style="left:1181px;top:452px;width:5px;height:8px;background:#e92e33"></div>
<div class="c" style="left:1188px;top:452px;width:3px;height:8px;background:#2e8a47"></div>
<div class="c" style="left:1193px;top:452px;width:7px;height:4px;background:#3f4a4e"></div>
<div class="c" style="left:1193px;top:457px;width:7px;height:3px;background:#e92e33"></div>
<div class="h" style="left:1173px;top:464px;width:27px;height:14px;background:#29c955;font-size:9px;line-height:14px;color:#fff">سرمایه</div>
<div class="c" style="left:808px;top:793px;width:30px;height:10px;background:#27c852"></div>
<div class="c" style="left:841px;top:793px;width:22px;height:13px;background:#27c852"></div>
<div class="c" style="left:808px;top:805px;width:15px;height:21px;background:#2f6a45"></div>
<div class="c" style="left:825px;top:805px;width:13px;height:21px;background:#27c852"></div>
<div class="c" style="left:841px;top:809px;width:10px;height:17px;background:#27c852"></div>
<div class="c" style="left:854px;top:809px;width:9px;height:17px;background:#27c852"></div>
<div class="c" style="left:808px;top:828px;width:12px;height:15px;background:#e92e33"></div>
<div class="c" style="left:823px;top:828px;width:10px;height:15px;background:#2ebb4e"></div>
<div class="c" style="left:835px;top:828px;width:14px;height:7px;background:#27c852"></div>
<div class="c" style="left:851px;top:828px;width:12px;height:7px;background:#2e9448"></div>
<div class="c" style="left:835px;top:837px;width:14px;height:6px;background:#2e9448"></div>
<div class="c" style="left:851px;top:837px;width:12px;height:6px;background:#b03a40"></div>
<div class="c" style="left:808px;top:845px;width:7px;height:16px;background:#27c852"></div>
<div class="c" style="left:818px;top:845px;width:6px;height:16px;background:#27c852"></div>
<div class="c" style="left:827px;top:845px;width:6px;height:16px;background:#2e9448"></div>
<div class="c" style="left:835px;top:846px;width:13px;height:4px;background:#3f5d4d"></div>
<div class="c" style="left:835px;top:852px;width:5px;height:9px;background:#3f4a4e"></div>
<div class="c" style="left:843px;top:852px;width:5px;height:9px;background:#3f4a4e"></div>
<div class="c" style="left:850px;top:846px;width:3px;height:6px;background:#2e8a47"></div>
<div class="c" style="left:855px;top:846px;width:3px;height:6px;background:#27c852"></div>
<div class="c" style="left:860px;top:846px;width:3px;height:6px;background:#3f4a4e"></div>
<div class="c" style="left:850px;top:855px;width:6px;height:3px;background:#6a3c47"></div>
<div class="c" style="left:858px;top:855px;width:5px;height:3px;background:#27c852"></div>
<div class="c" style="left:850px;top:859px;width:6px;height:2px;background:#3f4a4e"></div>
<div class="c" style="left:1010px;top:648px;width:10px;height:18px;background:#3f4a4e"></div>
<div class="c" style="left:1022px;top:648px;width:8px;height:18px;background:#27c852"></div>
<div class="c" style="left:1032px;top:648px;width:9px;height:9px;background:#27c852"></div>
<div class="c" style="left:1043px;top:648px;width:7px;height:9px;background:#3f5d4d"></div>
<div class="c" style="left:1032px;top:660px;width:9px;height:9px;background:#e92e33"></div>
<div class="c" style="left:1043px;top:660px;width:7px;height:9px;background:#27c852"></div>
<div class="c" style="left:1010px;top:669px;width:6px;height:20px;background:#27c852"></div>
<div class="c" style="left:1018px;top:669px;width:12px;height:10px;background:#27c852"></div>
<div class="c" style="left:1018px;top:681px;width:12px;height:8px;background:#27c852"></div>
<div class="c" style="left:1032px;top:671px;width:9px;height:8px;background:#553d4a"></div>
<div class="c" style="left:1032px;top:681px;width:9px;height:8px;background:#27c852"></div>
<div class="c" style="left:1043px;top:671px;width:7px;height:6px;background:#27c852"></div>
<div class="c" style="left:1043px;top:679px;width:7px;height:5px;background:#3f5d4d"></div>
<div class="c" style="left:1043px;top:686px;width:3px;height:3px;background:#3f4a4e"></div>
<div class="c" style="left:1047px;top:686px;width:3px;height:3px;background:#3f4a4e"></div>
<div class="c" style="left:922px;top:827px;width:24px;height:16px;background:#c8393e"></div>
<div class="c" style="left:948px;top:827px;width:8px;height:19px;background:#7a3c48"></div>
<div class="c" style="left:960px;top:827px;width:16px;height:9px;background:#27c852"></div>
<div class="c" style="left:960px;top:838px;width:16px;height:8px;background:#27c852"></div>
<div class="c" style="left:922px;top:846px;width:11px;height:15px;background:#d8393d"></div>
<div class="c" style="left:935px;top:846px;width:11px;height:15px;background:#27c852"></div>
<div class="c" style="left:948px;top:848px;width:10px;height:13px;background:#553d4a"></div>
<div class="c" style="left:961px;top:848px;width:4px;height:13px;background:#27c852"></div>
<div class="c" style="left:967px;top:848px;width:9px;height:6px;background:#27c852"></div>
<div class="c" style="left:967px;top:856px;width:4px;height:5px;background:#27c852"></div>
<div class="c" style="left:973px;top:856px;width:3px;height:5px;background:#27c852"></div>
<div class="c" style="left:982px;top:854px;width:9px;height:7px;background:#27c852"></div>
<div class="c" style="left:994px;top:854px;width:9px;height:7px;background:#3f4a4e"></div>
<div class="c" style="left:1006px;top:854px;width:8px;height:7px;background:#6a3c47"></div>
<div class="c" style="left:1017px;top:854px;width:6px;height:7px;background:#27c852"></div>
<div class="c" style="left:1027px;top:852px;width:7px;height:9px;background:#c03a3f"></div>
<div class="c" style="left:1037px;top:852px;width:6px;height:9px;background:#6a3c47"></div>
<div class="c" style="left:1045px;top:852px;width:5px;height:9px;background:#3f4a4e"></div>
<div class="c" style="left:1136px;top:575px;width:16px;height:25px;background:#27c852"></div>
<div class="c" style="left:1154px;top:575px;width:12px;height:25px;background:#7a3c48"></div>
<div class="c" style="left:1168px;top:575px;width:13px;height:13px;background:#553d4a"></div>
<div class="c" style="left:1168px;top:591px;width:13px;height:9px;background:#6a3c47"></div>
<div class="c" style="left:1184px;top:575px;width:16px;height:7px;background:#27c852"></div>
<div class="c" style="left:1184px;top:585px;width:7px;height:16px;background:#6a3c47"></div>
<div class="c" style="left:1193px;top:585px;width:7px;height:16px;background:#2e8a47"></div>
<div class="c" style="left:1136px;top:602px;width:15px;height:15px;background:#6a3c47"></div>
<div class="c" style="left:1153px;top:602px;width:13px;height:15px;background:#2e9448"></div>
<div class="c" style="left:1168px;top:603px;width:14px;height:8px;background:#b03a40"></div>
<div class="c" style="left:1168px;top:614px;width:14px;height:6px;background:#b03a40"></div>
<div class="c" style="left:1185px;top:603px;width:4px;height:13px;background:#c03a3f"></div>
<div class="c" style="left:1191px;top:603px;width:9px;height:6px;background:#6a3c47"></div>
<div class="c" style="left:1191px;top:611px;width:9px;height:5px;background:#c03a3f"></div>
<div class="c" style="left:1136px;top:619px;width:15px;height:15px;background:#3f4a4e"></div>
<div class="c" style="left:1153px;top:619px;width:13px;height:15px;background:#27c852"></div>
<div class="c" style="left:1168px;top:623px;width:7px;height:11px;background:#27c852"></div>
<div class="c" style="left:1177px;top:623px;width:5px;height:11px;background:#2e8a47"></div>
<div class="c" style="left:1185px;top:619px;width:7px;height:7px;background:#2e8a47"></div>
<div class="c" style="left:1195px;top:619px;width:5px;height:6px;background:#2e8a47"></div>
<div class="c" style="left:1185px;top:628px;width:7px;height:6px;background:#e92e33"></div>
<div class="c" style="left:1195px;top:628px;width:5px;height:6px;background:#3f4a4e"></div>
<div class="c" style="left:1110px;top:654px;width:26px;height:13px;background:#27c852"></div>
<div class="c" style="left:1110px;top:670px;width:26px;height:12px;background:#27c852"></div>
<div class="c" style="left:1137px;top:654px;width:20px;height:15px;background:#27c852"></div>
<div class="c" style="left:1137px;top:672px;width:20px;height:10px;background:#27c852"></div>
<div class="c" style="left:1159px;top:654px;width:11px;height:14px;background:#4a4a50"></div>
<div class="c" style="left:1159px;top:670px;width:11px;height:12px;background:#27c852"></div>
<div class="c" style="left:1172px;top:654px;width:9px;height:11px;background:#27c852"></div>
<div class="c" style="left:1184px;top:654px;width:8px;height:11px;background:#2e8a47"></div>
<div class="c" style="left:1194px;top:654px;width:6px;height:11px;background:#27c852"></div>
<div class="c" style="left:1172px;top:668px;width:14px;height:3px;background:#3a7a4a"></div>
<div class="c" style="left:1172px;top:674px;width:6px;height:8px;background:#27c852"></div>
<div class="c" style="left:1180px;top:674px;width:6px;height:8px;background:#27c852"></div>
<div class="c" style="left:1188px;top:668px;width:6px;height:6px;background:#6a3c47"></div>
<div class="c" style="left:1196px;top:668px;width:4px;height:6px;background:#e92e33"></div>
<div class="c" style="left:1188px;top:676px;width:4px;height:6px;background:#2e8a47"></div>
<div class="c" style="left:1194px;top:676px;width:6px;height:6px;background:#3f4a4e"></div>
<div class="c" style="left:1100px;top:750px;width:6px;height:9px;background:#27c852"></div>
<div class="c" style="left:1108px;top:750px;width:5px;height:9px;background:#e92e33"></div>
<div class="c" style="left:1100px;top:761px;width:6px;height:5px;background:#27c852"></div>
<div class="c" style="left:1108px;top:762px;width:4px;height:4px;background:#27c852"></div>
<div class="c" style="left:1117px;top:741px;width:21px;height:11px;background:#7a3c48"></div>
<div class="c" style="left:1141px;top:741px;width:9px;height:10px;background:#27c852"></div>
<div class="c" style="left:1153px;top:741px;width:8px;height:10px;background:#2e8a47"></div>
<div class="c" style="left:1117px;top:754px;width:11px;height:12px;background:#27c852"></div>
<div class="c" style="left:1130px;top:754px;width:8px;height:12px;background:#6a3c47"></div>
<div class="c" style="left:1141px;top:754px;width:11px;height:5px;background:#2e8a47"></div>
<div class="c" style="left:1155px;top:754px;width:6px;height:5px;background:#3f4a4e"></div>
<div class="c" style="left:1141px;top:762px;width:11px;height:4px;background:#27c852"></div>
<div class="c" style="left:1155px;top:762px;width:6px;height:4px;background:#3f4a4e"></div>
<div class="c" style="left:1165px;top:743px;width:16px;height:15px;background:#e92e33"></div>
<div class="c" style="left:1184px;top:743px;width:7px;height:10px;background:#8a3a40"></div>
<div class="c" style="left:1194px;top:743px;width:6px;height:10px;background:#2e8a47"></div>
<div class="c" style="left:1184px;top:755px;width:7px;height:5px;background:#2e8a47"></div>
<div class="c" style="left:1194px;top:755px;width:6px;height:5px;background:#27c852"></div>
<div class="c" style="left:1165px;top:761px;width:16px;height:5px;background:#27c852"></div>
<div class="c" style="left:1184px;top:762px;width:7px;height:4px;background:#a83a40"></div>
<div class="c" style="left:1194px;top:762px;width:6px;height:4px;background:#e92e33"></div>
<div class="c" style="left:1100px;top:787px;width:18px;height:14px;background:#37644a"></div>
<div class="c" style="left:1100px;top:803px;width:11px;height:15px;background:#27c852"></div>
<div class="c" style="left:1113px;top:803px;width:5px;height:15px;background:#e92e33"></div>
<div class="c" style="left:1122px;top:787px;width:22px;height:15px;background:#27c852"></div>
<div class="c" style="left:1146px;top:787px;width:6px;height:13px;background:#27c852"></div>
<div class="c" style="left:1155px;top:787px;width:6px;height:13px;background:#2e8a47"></div>
<div class="c" style="left:1122px;top:803px;width:22px;height:11px;background:#a83a40"></div>
<div class="c" style="left:1146px;top:802px;width:6px;height:12px;background:#3f5d4d"></div>
<div class="c" style="left:1154px;top:802px;width:7px;height:8px;background:#27c852"></div>
<div class="c" style="left:1154px;top:812px;width:7px;height:3px;background:#3f4a4e"></div>
<div class="c" style="left:1122px;top:816px;width:22px;height:2px;background:#3f4a4e"></div>
<div class="c" style="left:1165px;top:787px;width:15px;height:27px;background:#27c852"></div>
<div class="c" style="left:1182px;top:787px;width:18px;height:12px;background:#6a3c47"></div>
<div class="c" style="left:1182px;top:801px;width:9px;height:13px;background:#27c852"></div>
<div class="c" style="left:1193px;top:801px;width:7px;height:5px;background:#6a3c47"></div>
<div class="c" style="left:1193px;top:808px;width:3px;height:6px;background:#3f4a4e"></div>
<div class="c" style="left:1198px;top:808px;width:2px;height:6px;background:#27c852"></div>
<div class="c" style="left:1063px;top:838px;width:14px;height:23px;background:#27c852"></div>
<div class="c" style="left:1080px;top:838px;width:11px;height:23px;background:#9a3a40"></div>
<div class="c" style="left:1094px;top:838px;width:10px;height:23px;background:#27c852"></div>
<div class="c" style="left:1106px;top:838px;width:12px;height:15px;background:#3f5d4d"></div>
<div class="c" style="left:1106px;top:855px;width:8px;height:6px;background:#6a3c47"></div>
<div class="c" style="left:1122px;top:834px;width:25px;height:16px;background:#27c852"></div>
<div class="c" style="left:1122px;top:853px;width:25px;height:8px;background:#3f5d4d"></div>
<div class="c" style="left:1152px;top:834px;width:22px;height:16px;background:#3f5a4d"></div>
<div class="c" style="left:1152px;top:852px;width:12px;height:9px;background:#27c852"></div>
<div class="c" style="left:1166px;top:852px;width:3px;height:9px;background:#2e8a47"></div>
<div class="c" style="left:1171px;top:852px;width:3px;height:9px;background:#6a3c47"></div>
<div class="c" style="left:1180px;top:834px;width:20px;height:13px;background:#e92e33"></div>
<div class="c" style="left:1180px;top:849px;width:5px;height:12px;background:#27c852"></div>
<div class="c" style="left:1188px;top:849px;width:4px;height:12px;background:#27c852"></div>
<div class="c" style="left:1194px;top:849px;width:6px;height:12px;background:#e92e33"></div>
<div class="c" style="left:821px;top:936px;width:11px;height:14px;background:#b03a40"></div>
<div class="c" style="left:835px;top:936px;width:11px;height:14px;background:#7a3c48"></div>
<div class="c" style="left:848px;top:936px;width:11px;height:6px;background:#2e8a47"></div>
<div class="c" style="left:862px;top:936px;width:9px;height:6px;background:#2e8a47"></div>
<div class="c" style="left:848px;top:945px;width:11px;height:6px;background:#6a3c47"></div>
<div class="c" style="left:862px;top:945px;width:9px;height:6px;background:#27c852"></div>
<div class="c" style="left:821px;top:953px;width:8px;height:17px;background:#27c852"></div>
<div class="c" style="left:832px;top:953px;width:14px;height:8px;background:#553d4a"></div>
<div class="c" style="left:832px;top:964px;width:14px;height:6px;background:#6a3c47"></div>
<div class="c" style="left:848px;top:953px;width:11px;height:6px;background:#27c852"></div>
<div class="c" style="left:862px;top:953px;width:4px;height:10px;background:#2e8a47"></div>
<div class="c" style="left:868px;top:953px;width:3px;height:10px;background:#2e8a47"></div>
<div class="c" style="left:848px;top:962px;width:5px;height:8px;background:#27c852"></div>
<div class="c" style="left:855px;top:962px;width:4px;height:8px;background:#3f4a4e"></div>
<div class="c" style="left:862px;top:966px;width:9px;height:4px;background:#2e8a47"></div>
<div class="c" style="left:773px;top:991px;width:12px;height:29px;background:#3f4a4e"></div>
<div class="c" style="left:787px;top:991px;width:18px;height:15px;background:#8a3a40"></div>
<div class="c" style="left:787px;top:1009px;width:18px;height:11px;background:#27c852"></div>
<div class="c" style="left:773px;top:1022px;width:14px;height:16px;background:#27c852"></div>
<div class="c" style="left:790px;top:1022px;width:7px;height:12px;background:#27c852"></div>
<div class="c" style="left:800px;top:1022px;width:5px;height:12px;background:#27c852"></div>
<div class="c" style="left:773px;top:1040px;width:14px;height:8px;background:#27c852"></div>
<div class="c" style="left:790px;top:1037px;width:7px;height:4px;background:#27c852"></div>
<div class="c" style="left:790px;top:1043px;width:7px;height:5px;background:#27c852"></div>
<div class="c" style="left:800px;top:1037px;width:5px;height:11px;background:#6a3c47"></div>
<div class="c" style="left:811px;top:991px;width:34px;height:14px;background:#2e9448"></div>
<div class="c" style="left:848px;top:991px;width:13px;height:7px;background:#27c852"></div>
<div class="c" style="left:864px;top:991px;width:7px;height:7px;background:#e92e33"></div>
<div class="c" style="left:848px;top:1001px;width:13px;height:4px;background:#27c852"></div>
<div class="c" style="left:864px;top:1000px;width:7px;height:5px;background:#27c852"></div>
<div class="c" style="left:811px;top:1027px;width:14px;height:11px;background:#2ea548"></div>
<div class="c" style="left:828px;top:1027px;width:9px;height:11px;background:#27c852"></div>
<div class="c" style="left:839px;top:1027px;width:6px;height:11px;background:#27c852"></div>
<div class="c" style="left:811px;top:1040px;width:14px;height:8px;background:#2e8a47"></div>
<div class="c" style="left:828px;top:1039px;width:6px;height:9px;background:#e92e33"></div>
<div class="c" style="left:836px;top:1039px;width:9px;height:9px;background:#6a3c47"></div>
<div class="c" style="left:850px;top:1027px;width:17px;height:9px;background:#27c852"></div>
<div class="c" style="left:868px;top:1027px;width:3px;height:9px;background:#3f4a4e"></div>
<div class="c" style="left:850px;top:1040px;width:11px;height:8px;background:#3f4a4e"></div>
<div class="c" style="left:864px;top:1040px;width:2px;height:8px;background:#27c852"></div>
<div class="c" style="left:868px;top:1040px;width:3px;height:8px;background:#e92e33"></div>
<div class="c" style="left:964px;top:1033px;width:12px;height:22px;background:#2e9448"></div>
<div class="c" style="left:978px;top:1033px;width:23px;height:10px;background:#27c852"></div>
<div class="c" style="left:978px;top:1045px;width:23px;height:10px;background:#b03a40"></div>
<div class="c" style="left:1002px;top:1033px;width:19px;height:11px;background:#e72d32"></div>
<div class="c" style="left:1002px;top:1046px;width:19px;height:9px;background:#27c852"></div>
<div class="c" style="left:1024px;top:1033px;width:21px;height:7px;background:#27c852"></div>
<div class="c" style="left:1024px;top:1042px;width:9px;height:13px;background:#9a3a40"></div>
<div class="c" style="left:1035px;top:1042px;width:10px;height:13px;background:#3f5d4d"></div>
<div class="c" style="left:964px;top:1058px;width:11px;height:19px;background:#553d4a"></div>
<div class="c" style="left:977px;top:1058px;width:11px;height:19px;background:#27c852"></div>
<div class="c" style="left:990px;top:1058px;width:11px;height:19px;background:#27c852"></div>
<div class="c" style="left:1002px;top:1057px;width:12px;height:10px;background:#27c852"></div>
<div class="c" style="left:1016px;top:1057px;width:8px;height:10px;background:#27c852"></div>
<div class="c" style="left:1026px;top:1057px;width:5px;height:9px;background:#27c852"></div>
<div class="c" style="left:1034px;top:1057px;width:5px;height:9px;background:#e92e33"></div>
<div class="c" style="left:1041px;top:1057px;width:4px;height:9px;background:#e92e33"></div>
<div class="c" style="left:1002px;top:1069px;width:12px;height:8px;background:#2e8a47"></div>
<div class="c" style="left:1016px;top:1069px;width:8px;height:8px;background:#2e8a47"></div>
<div class="c" style="left:1026px;top:1069px;width:4px;height:8px;background:#27c852"></div>
<div class="c" style="left:1032px;top:1069px;width:2px;height:8px;background:#27c852"></div>
<div class="c" style="left:1036px;top:1069px;width:4px;height:8px;background:#3f4a4e"></div>
<div class="c" style="left:1042px;top:1069px;width:3px;height:8px;background:#6a3c47"></div>
<div class="c" style="left:1056px;top:952px;width:19px;height:27px;background:#6a3c47"><div class="t" style="margin-top:0.6px"><span class="n" style="font-size:4.5px">میهن</span></div></div>
<div class="c" style="left:1077px;top:952px;width:17px;height:27px;background:#b03a40"><div class="t" style="margin-top:0.6px"><span class="n" style="font-size:4.5px">غالبر</span></div></div>
<div class="c" style="left:1056px;top:981px;width:18px;height:20px;background:#27c852"><div class="t" style="margin-top:0.5px"><span class="n" style="font-size:3.9px">غفارس</span></div></div>
<div class="c" style="left:1076px;top:981px;width:18px;height:20px;background:#27c852"><div class="t" style="margin-top:0.5px"><span class="n" style="font-size:3.9px">غکوروش</span></div></div>
<div class="c" style="left:1125px;top:1022px;width:24px;height:21px;background:#e72d32"><div class="t" style="margin-top:0.7px"><span class="n" style="font-size:5.2px">غپاک</span></div></div>
<div class="c" style="left:1096px;top:952px;width:15px;height:23px;background:#4a3d4a"></div>
<div class="c" style="left:1113px;top:952px;width:13px;height:11px;background:#27c852"></div>
<div class="c" style="left:1113px;top:965px;width:13px;height:10px;background:#2e8a47"></div>
<div class="c" style="left:1096px;top:977px;width:13px;height:8px;background:#27c852"></div>
<div class="c" style="left:1096px;top:987px;width:13px;height:6px;background:#2e8a47"></div>
<div class="c" style="left:1096px;top:995px;width:13px;height:6px;background:#6a3c47"></div>
<div class="c" style="left:1112px;top:977px;width:6px;height:9px;background:#27c852"></div>
<div class="c" style="left:1120px;top:977px;width:6px;height:9px;background:#e92e33"></div>
<div class="c" style="left:1112px;top:988px;width:4px;height:13px;background:#3f4a4e"></div>
<div class="c" style="left:1118px;top:988px;width:8px;height:6px;background:#3f4a4e"></div>
<div class="c" style="left:1118px;top:996px;width:8px;height:5px;background:#27c852"></div>
<div class="c" style="left:1131px;top:949px;width:17px;height:14px;background:#2f9e49"></div>
<div class="c" style="left:1151px;top:949px;width:11px;height:14px;background:#2e8a47"></div>
<div class="c" style="left:1164px;top:949px;width:19px;height:12px;background:#27c852"></div>
<div class="c" style="left:1187px;top:949px;width:13px;height:14px;background:#27c852"></div>
<div class="c" style="left:1131px;top:966px;width:31px;height:14px;background:#27c852"></div>
<div class="c" style="left:1164px;top:963px;width:19px;height:12px;background:#2e8a47"></div>
<div class="c" style="left:1187px;top:966px;width:13px;height:9px;background:#27c852"></div>
<div class="c" style="left:1131px;top:984px;width:14px;height:17px;background:#553d4a"></div>
<div class="c" style="left:1151px;top:984px;width:11px;height:17px;background:#3f4d4e"></div>
<div class="c" style="left:1164px;top:977px;width:16px;height:7px;background:#27c852"></div>
<div class="c" style="left:1164px;top:987px;width:8px;height:14px;background:#27c852"></div>
<div class="c" style="left:1174px;top:987px;width:6px;height:14px;background:#27c852"></div>
<div class="c" style="left:1182px;top:977px;width:9px;height:11px;background:#7a3c48"></div>
<div class="c" style="left:1193px;top:977px;width:7px;height:11px;background:#8a3a40"></div>
<div class="c" style="left:1182px;top:990px;width:9px;height:11px;background:#27c852"></div>
<div class="c" style="left:1193px;top:990px;width:7px;height:5px;background:#3f4a4e"></div>
<div class="c" style="left:1193px;top:997px;width:4px;height:4px;background:#27c852"></div>
<div class="c" style="left:1056px;top:1021px;width:9px;height:23px;background:#27c852"></div>
<div class="c" style="left:1068px;top:1021px;width:16px;height:11px;background:#27c852"></div>
<div class="c" style="left:1086px;top:1021px;width:13px;height:11px;background:#2e9448"></div>
<div class="c" style="left:1101px;top:1021px;width:10px;height:11px;background:#3f5a4d"></div>
<div class="c" style="left:1113px;top:1021px;width:7px;height:11px;background:#d8393d"></div>
<div class="c" style="left:1068px;top:1034px;width:16px;height:10px;background:#e72d32"></div>
<div class="c" style="left:1086px;top:1034px;width:13px;height:10px;background:#27c852"></div>
<div class="c" style="left:1101px;top:1034px;width:8px;height:10px;background:#6a3c47"></div>
<div class="c" style="left:1111px;top:1034px;width:9px;height:4px;background:#3f4a4e"></div>
<div class="c" style="left:1111px;top:1040px;width:9px;height:4px;background:#9a3a40"></div>
<div class="c" style="left:1125px;top:1045px;width:24px;height:7px;background:#c83a3e"></div>
<div class="c" style="left:1125px;top:1054px;width:9px;height:14px;background:#3f6a4a"></div>
<div class="c" style="left:1136px;top:1054px;width:13px;height:8px;background:#9a3a40"></div>
<div class="c" style="left:1136px;top:1064px;width:13px;height:4px;background:#27c852"></div>
<div class="c" style="left:1125px;top:1070px;width:4px;height:10px;background:#27c852"></div>
<div class="c" style="left:1131px;top:1070px;width:4px;height:10px;background:#2e8a47"></div>
<div class="c" style="left:1137px;top:1070px;width:5px;height:10px;background:#2e8a47"></div>
<div class="c" style="left:1144px;top:1070px;width:5px;height:10px;background:#2e8a47"></div>
<div class="c" style="left:1154px;top:1021px;width:19px;height:13px;background:#2e8a47"></div>
<div class="c" style="left:1175px;top:1021px;width:17px;height:13px;background:#3f5a4d"></div>
<div class="c" style="left:1194px;top:1021px;width:6px;height:6px;background:#27c852"></div>
<div class="c" style="left:1194px;top:1029px;width:6px;height:5px;background:#3f4a4e"></div>
<div class="c" style="left:1056px;top:1064px;width:8px;height:16px;background:#3a5a4a"></div>
<div class="c" style="left:1066px;top:1064px;width:7px;height:16px;background:#c03a3f"></div>
<div class="c" style="left:1075px;top:1064px;width:14px;height:10px;background:#8a3a40"></div>
<div class="c" style="left:1075px;top:1076px;width:14px;height:4px;background:#3f4a4e"></div>
<div class="c" style="left:1092px;top:1064px;width:12px;height:6px;background:#27c852"></div>
<div class="c" style="left:1092px;top:1072px;width:5px;height:8px;background:#e92e33"></div>
<div class="c" style="left:1099px;top:1072px;width:5px;height:8px;background:#6a3c47"></div>
<div class="c" style="left:1106px;top:1064px;width:6px;height:10px;background:#27c852"></div>
<div class="c" style="left:1114px;top:1064px;width:6px;height:5px;background:#27c852"></div>
<div class="c" style="left:1114px;top:1071px;width:6px;height:4px;background:#27c852"></div>
<div class="c" style="left:1106px;top:1076px;width:4px;height:4px;background:#27c852"></div>
<div class="c" style="left:1112px;top:1076px;width:3px;height:4px;background:#3f4a4e"></div>
<div class="c" style="left:1117px;top:1076px;width:3px;height:4px;background:#27c852"></div>
<div class="c" style="left:1154px;top:1056px;width:18px;height:24px;background:#3a5a4a"></div>
<div class="c" style="left:1174px;top:1056px;width:13px;height:8px;background:#3f5a4d"></div>
<div class="c" style="left:1174px;top:1066px;width:13px;height:4px;background:#2e8a47"></div>
<div class="c" style="left:1174px;top:1071px;width:5px;height:9px;background:#27c852"></div>
<div class="c" style="left:1181px;top:1071px;width:6px;height:4px;background:#27c852"></div>
<div class="c" style="left:1181px;top:1077px;width:6px;height:3px;background:#27c852"></div>
<div class="c" style="left:1191px;top:1056px;width:9px;height:10px;background:#27c852"></div>
<div class="c" style="left:1191px;top:1068px;width:9px;height:12px;background:#27c852"></div>
<div class="c" style="left:884px;top:1162px;width:16px;height:22px;background:#6a3c47"><div class="t" style="margin-top:0.5px"><span class="n" style="font-size:3.9px">تهسا</span></div></div>
<div class="c" style="left:966px;top:1173px;width:18px;height:27px;background:#4f3f4d"><div class="t" style="margin-top:0.6px"><span class="n" style="font-size:4.5px">اخزا211</span></div></div>
<div class="c" style="left:902px;top:1162px;width:15px;height:22px;background:#e92e33"></div>
<div class="c" style="left:884px;top:1187px;width:16px;height:13px;background:#27c852"></div>
<div class="c" style="left:902px;top:1187px;width:15px;height:13px;background:#2e9448"></div>
<div class="c" style="left:920px;top:1162px;width:16px;height:9px;background:#553d4a"></div>
<div class="c" style="left:938px;top:1162px;width:16px;height:9px;background:#2e8a47"></div>
<div class="c" style="left:920px;top:1173px;width:16px;height:7px;background:#27c852"></div>
<div class="c" style="left:938px;top:1173px;width:16px;height:7px;background:#553d4a"></div>
<div class="c" style="left:920px;top:1183px;width:16px;height:7px;background:#27c852"></div>
<div class="c" style="left:938px;top:1183px;width:8px;height:7px;background:#27c852"></div>
<div class="c" style="left:948px;top:1183px;width:6px;height:7px;background:#3f4a4e"></div>
<div class="c" style="left:920px;top:1193px;width:6px;height:7px;background:#e92e33"></div>
<div class="c" style="left:929px;top:1193px;width:6px;height:7px;background:#c03a3f"></div>
<div class="c" style="left:938px;top:1193px;width:9px;height:7px;background:#27c852"></div>
<div class="c" style="left:949px;top:1193px;width:5px;height:7px;background:#e92e33"></div>
<div class="c" style="left:986px;top:1173px;width:12px;height:27px;background:#5a3d4a"></div>
<div class="c" style="left:1001px;top:1173px;width:10px;height:27px;background:#3f4a4e"></div>
<div class="c" style="left:1013px;top:1173px;width:18px;height:13px;background:#553d4a"></div>
<div class="c" style="left:1013px;top:1188px;width:15px;height:12px;background:#553d4a"></div>
<div class="c" style="left:1030px;top:1188px;width:1px;height:12px;background:#3f4a4e"></div>
<div class="c" style="left:1044px;top:1115px;width:17px;height:16px;background:#e72d32"><div class="t" style="margin-top:0.5px"><span class="n" style="font-size:3.9px">بدیک</span></div></div>
<div class="c" style="left:1120px;top:1179px;width:23px;height:21px;background:#a83a40"><div class="t" style="margin-top:0.6px"><span class="n" style="font-size:4.5px">بیمویوم</span></div></div>
<div class="c" style="left:1146px;top:1179px;width:19px;height:21px;background:#e72d32"><div class="t" style="margin-top:0.6px"><span class="n" style="font-size:4.5px">دملوک</span></div></div>
<div class="c" style="left:1064px;top:1115px;width:11px;height:16px;background:#27c852"></div>
<div class="c" style="left:1078px;top:1115px;width:16px;height:7px;background:#27c852"></div>
<div class="c" style="left:1078px;top:1125px;width:16px;height:7px;background:#2e9448"></div>
<div class="c" style="left:1097px;top:1115px;width:12px;height:9px;background:#27c852"></div>
<div class="c" style="left:1097px;top:1126px;width:12px;height:6px;background:#27c852"></div>
<div class="c" style="left:1044px;top:1133px;width:10px;height:17px;background:#3f5a4d"></div>
<div class="c" style="left:1057px;top:1133px;width:7px;height:17px;background:#e72d32"></div>
<div class="c" style="left:1067px;top:1133px;width:8px;height:17px;background:#3f4d4e"></div>
<div class="c" style="left:1078px;top:1135px;width:12px;height:7px;background:#d8393d"></div>
<div class="c" style="left:1078px;top:1144px;width:12px;height:6px;background:#3f5d4d"></div>
<div class="c" style="left:1093px;top:1135px;width:4px;height:15px;background:#27c852"></div>
<div class="c" style="left:1099px;top:1135px;width:10px;height:5px;background:#6a3c47"></div>
<div class="c" style="left:1099px;top:1142px;width:5px;height:8px;background:#2e8a47"></div>
<div class="c" style="left:1106px;top:1142px;width:3px;height:8px;background:#3f4a4e"></div>
<div class="c" style="left:1168px;top:1179px;width:19px;height:11px;background:#27c852"></div>
<div class="c" style="left:1168px;top:1192px;width:10px;height:6px;background:#6a3c47"></div>
<div class="c" style="left:1180px;top:1192px;width:7px;height:6px;background:#6a3c47"></div>
<div class="c" style="left:1192px;top:1179px;width:8px;height:16px;background:#27c852"></div>
<div class="c" style="left:1192px;top:1197px;width:8px;height:3px;background:#e92e33"></div>
<svg class="nts" style="left:1px;top:29px" width="14" height="8" viewBox="0 0 14 8"><polygon points="0,0 7,6.5 14,0" fill="#29c955"/><polyline points="0,0.5 7,6.5 14,0.5" fill="none" stroke="#05320f" stroke-width="1.3"/></svg>
<svg class="nts" style="left:1px;top:762px" width="14" height="8" viewBox="0 0 14 8"><polygon points="0,0 7,6.5 14,0" fill="#29c955"/><polyline points="0,0.5 7,6.5 14,0.5" fill="none" stroke="#05320f" stroke-width="1.3"/></svg>
<svg class="nts" style="left:346px;top:762px" width="14" height="8" viewBox="0 0 14 8"><polygon points="0,0 7,6.5 14,0" fill="#29c955"/><polyline points="0,0.5 7,6.5 14,0.5" fill="none" stroke="#05320f" stroke-width="1.3"/></svg>
<svg class="nts" style="left:346px;top:1097px" width="14" height="8" viewBox="0 0 14 8"><polygon points="0,0 7,6.5 14,0" fill="#29c955"/><polyline points="0,0.5 7,6.5 14,0.5" fill="none" stroke="#05320f" stroke-width="1.3"/></svg>
<svg class="nts" style="left:473px;top:1097px" width="14" height="8" viewBox="0 0 14 8"><polygon points="0,0 7,6.5 14,0" fill="#29c955"/><polyline points="0,0.5 7,6.5 14,0.5" fill="none" stroke="#05320f" stroke-width="1.3"/></svg>
<svg class="nts" style="left:571px;top:1097px" width="14" height="8" viewBox="0 0 14 8"><polygon points="0,0 7,6.5 14,0" fill="#29c955"/><polyline points="0,0.5 7,6.5 14,0.5" fill="none" stroke="#05320f" stroke-width="1.3"/></svg>
<svg class="nts" style="left:630px;top:29px" width="14" height="8" viewBox="0 0 14 8"><polygon points="0,0 7,6.5 14,0" fill="#29c955"/><polyline points="0,0.5 7,6.5 14,0.5" fill="none" stroke="#05320f" stroke-width="1.3"/></svg>
<svg class="nts" style="left:964px;top:29px" width="14" height="8" viewBox="0 0 14 8"><polygon points="0,0 7,6.5 14,0" fill="#29c955"/><polyline points="0,0.5 7,6.5 14,0.5" fill="none" stroke="#05320f" stroke-width="1.3"/></svg>
<svg class="nts" style="left:964px;top:418px" width="14" height="8" viewBox="0 0 14 8"><polygon points="0,0 7,6.5 14,0" fill="#29c955"/><polyline points="0,0.5 7,6.5 14,0.5" fill="none" stroke="#05320f" stroke-width="1.3"/></svg>
<svg class="nts" style="left:1087px;top:418px" width="14" height="8" viewBox="0 0 14 8"><polygon points="0,0 7,6.5 14,0" fill="#29c955"/><polyline points="0,0.5 7,6.5 14,0.5" fill="none" stroke="#05320f" stroke-width="1.3"/></svg>
<svg class="nts" style="left:1174px;top:418px" width="14" height="8" viewBox="0 0 14 8"><polygon points="0,0 7,6.5 14,0" fill="#e72d32"/><polyline points="0,0.5 7,6.5 14,0.5" fill="none" stroke="#05320f" stroke-width="1.3"/></svg>
<svg class="nts" style="left:630px;top:512px" width="14" height="8" viewBox="0 0 14 8"><polygon points="0,0 7,6.5 14,0" fill="#29c955"/><polyline points="0,0.5 7,6.5 14,0.5" fill="none" stroke="#05320f" stroke-width="1.3"/></svg>
<svg class="nts" style="left:630px;top:725px" width="14" height="8" viewBox="0 0 14 8"><polygon points="0,0 7,6.5 14,0" fill="#29c955"/><polyline points="0,0.5 7,6.5 14,0.5" fill="none" stroke="#05320f" stroke-width="1.3"/></svg>
<svg class="nts" style="left:869px;top:512px" width="14" height="8" viewBox="0 0 14 8"><polygon points="0,0 7,6.5 14,0" fill="#29c955"/><polyline points="0,0.5 7,6.5 14,0.5" fill="none" stroke="#05320f" stroke-width="1.3"/></svg>
<svg class="nts" style="left:869px;top:706px" width="14" height="8" viewBox="0 0 14 8"><polygon points="0,0 7,6.5 14,0" fill="#29c955"/><polyline points="0,0.5 7,6.5 14,0.5" fill="none" stroke="#05320f" stroke-width="1.3"/></svg>
<svg class="nts" style="left:983px;top:706px" width="14" height="8" viewBox="0 0 14 8"><polygon points="0,0 7,6.5 14,0" fill="#29c955"/><polyline points="0,0.5 7,6.5 14,0.5" fill="none" stroke="#05320f" stroke-width="1.3"/></svg>
<svg class="nts" style="left:983px;top:814px" width="14" height="8" viewBox="0 0 14 8"><polygon points="0,0 7,6.5 14,0" fill="#2e7a45"/><polyline points="0,0.5 7,6.5 14,0.5" fill="none" stroke="#05320f" stroke-width="1.3"/></svg>
<svg class="nts" style="left:1028px;top:814px" width="14" height="8" viewBox="0 0 14 8"><polygon points="0,0 7,6.5 14,0" fill="#29c955"/><polyline points="0,0.5 7,6.5 14,0.5" fill="none" stroke="#05320f" stroke-width="1.3"/></svg>
<svg class="nts" style="left:983px;top:851px" width="14" height="8" viewBox="0 0 14 8"><polygon points="0,0 7,6.5 14,0" fill="#29c955"/><polyline points="0,0.5 7,6.5 14,0.5" fill="none" stroke="#05320f" stroke-width="1.3"/></svg>
<svg class="nts" style="left:1028px;top:851px" width="14" height="8" viewBox="0 0 14 8"><polygon points="0,0 7,6.5 14,0" fill="#e72d32"/><polyline points="0,0.5 7,6.5 14,0.5" fill="none" stroke="#05320f" stroke-width="1.3"/></svg>
<svg class="nts" style="left:1064px;top:512px" width="14" height="8" viewBox="0 0 14 8"><polygon points="0,0 7,6.5 14,0" fill="#29c955"/><polyline points="0,0.5 7,6.5 14,0.5" fill="none" stroke="#05320f" stroke-width="1.3"/></svg>
<svg class="nts" style="left:1064px;top:652px" width="14" height="8" viewBox="0 0 14 8"><polygon points="0,0 7,6.5 14,0" fill="#29c955"/><polyline points="0,0.5 7,6.5 14,0.5" fill="none" stroke="#05320f" stroke-width="1.3"/></svg>
<svg class="nts" style="left:1064px;top:700px" width="14" height="8" viewBox="0 0 14 8"><polygon points="0,0 7,6.5 14,0" fill="#29c955"/><polyline points="0,0.5 7,6.5 14,0.5" fill="none" stroke="#05320f" stroke-width="1.3"/></svg>
<svg class="nts" style="left:1118px;top:700px" width="14" height="8" viewBox="0 0 14 8"><polygon points="0,0 7,6.5 14,0" fill="#29c955"/><polyline points="0,0.5 7,6.5 14,0.5" fill="none" stroke="#05320f" stroke-width="1.3"/></svg>
<svg class="nts" style="left:1166px;top:700px" width="14" height="8" viewBox="0 0 14 8"><polygon points="0,0 7,6.5 14,0" fill="#29c955"/><polyline points="0,0.5 7,6.5 14,0.5" fill="none" stroke="#05320f" stroke-width="1.3"/></svg>
<svg class="nts" style="left:1064px;top:784px" width="14" height="8" viewBox="0 0 14 8"><polygon points="0,0 7,6.5 14,0" fill="#2e8a47"/><polyline points="0,0.5 7,6.5 14,0.5" fill="none" stroke="#05320f" stroke-width="1.3"/></svg>
<svg class="nts" style="left:1123px;top:784px" width="14" height="8" viewBox="0 0 14 8"><polygon points="0,0 7,6.5 14,0" fill="#29c955"/><polyline points="0,0.5 7,6.5 14,0.5" fill="none" stroke="#05320f" stroke-width="1.3"/></svg>
<svg class="nts" style="left:1166px;top:784px" width="14" height="8" viewBox="0 0 14 8"><polygon points="0,0 7,6.5 14,0" fill="#29c955"/><polyline points="0,0.5 7,6.5 14,0.5" fill="none" stroke="#05320f" stroke-width="1.3"/></svg>
<svg class="nts" style="left:1064px;top:836px" width="14" height="8" viewBox="0 0 14 8"><polygon points="0,0 7,6.5 14,0" fill="#29c955"/><polyline points="0,0.5 7,6.5 14,0.5" fill="none" stroke="#05320f" stroke-width="1.3"/></svg>
<svg class="nts" style="left:1123px;top:832px" width="14" height="8" viewBox="0 0 14 8"><polygon points="0,0 7,6.5 14,0" fill="#29c955"/><polyline points="0,0.5 7,6.5 14,0.5" fill="none" stroke="#05320f" stroke-width="1.3"/></svg>
<svg class="nts" style="left:1153px;top:832px" width="14" height="8" viewBox="0 0 14 8"><polygon points="0,0 7,6.5 14,0" fill="#2e9448"/><polyline points="0,0.5 7,6.5 14,0.5" fill="none" stroke="#05320f" stroke-width="1.3"/></svg>
<svg class="nts" style="left:1181px;top:832px" width="14" height="8" viewBox="0 0 14 8"><polygon points="0,0 7,6.5 14,0" fill="#29c955"/><polyline points="0,0.5 7,6.5 14,0.5" fill="none" stroke="#05320f" stroke-width="1.3"/></svg>
<svg class="nts" style="left:630px;top:892px" width="14" height="8" viewBox="0 0 14 8"><polygon points="0,0 7,6.5 14,0" fill="#29c955"/><polyline points="0,0.5 7,6.5 14,0.5" fill="none" stroke="#05320f" stroke-width="1.3"/></svg>
<svg class="nts" style="left:774px;top:892px" width="14" height="8" viewBox="0 0 14 8"><polygon points="0,0 7,6.5 14,0" fill="#29c955"/><polyline points="0,0.5 7,6.5 14,0.5" fill="none" stroke="#05320f" stroke-width="1.3"/></svg>
<svg class="nts" style="left:774px;top:989px" width="14" height="8" viewBox="0 0 14 8"><polygon points="0,0 7,6.5 14,0" fill="#29c955"/><polyline points="0,0.5 7,6.5 14,0.5" fill="none" stroke="#05320f" stroke-width="1.3"/></svg>
<svg class="nts" style="left:812px;top:989px" width="14" height="8" viewBox="0 0 14 8"><polygon points="0,0 7,6.5 14,0" fill="#29c955"/><polyline points="0,0.5 7,6.5 14,0.5" fill="none" stroke="#05320f" stroke-width="1.3"/></svg>
<svg class="nts" style="left:812px;top:1023px" width="14" height="8" viewBox="0 0 14 8"><polygon points="0,0 7,6.5 14,0" fill="#29c955"/><polyline points="0,0.5 7,6.5 14,0.5" fill="none" stroke="#05320f" stroke-width="1.3"/></svg>
<svg class="nts" style="left:850px;top:1023px" width="14" height="8" viewBox="0 0 14 8"><polygon points="0,0 7,6.5 14,0" fill="#29c955"/><polyline points="0,0.5 7,6.5 14,0.5" fill="none" stroke="#05320f" stroke-width="1.3"/></svg>
<svg class="nts" style="left:884px;top:891px" width="14" height="8" viewBox="0 0 14 8"><polygon points="0,0 7,6.5 14,0" fill="#29c955"/><polyline points="0,0.5 7,6.5 14,0.5" fill="none" stroke="#05320f" stroke-width="1.3"/></svg>
<svg class="nts" style="left:1057px;top:892px" width="14" height="8" viewBox="0 0 14 8"><polygon points="0,0 7,6.5 14,0" fill="#29c955"/><polyline points="0,0.5 7,6.5 14,0.5" fill="none" stroke="#05320f" stroke-width="1.3"/></svg>
<svg class="nts" style="left:1132px;top:892px" width="14" height="8" viewBox="0 0 14 8"><polygon points="0,0 7,6.5 14,0" fill="#29c955"/><polyline points="0,0.5 7,6.5 14,0.5" fill="none" stroke="#05320f" stroke-width="1.3"/></svg>
<svg class="nts" style="left:1057px;top:1019px" width="14" height="8" viewBox="0 0 14 8"><polygon points="0,0 7,6.5 14,0" fill="#29c955"/><polyline points="0,0.5 7,6.5 14,0.5" fill="none" stroke="#05320f" stroke-width="1.3"/></svg>
<svg class="nts" style="left:1126px;top:1019px" width="14" height="8" viewBox="0 0 14 8"><polygon points="0,0 7,6.5 14,0" fill="#29c955"/><polyline points="0,0.5 7,6.5 14,0.5" fill="none" stroke="#05320f" stroke-width="1.3"/></svg>
<svg class="nts" style="left:1155px;top:1019px" width="14" height="8" viewBox="0 0 14 8"><polygon points="0,0 7,6.5 14,0" fill="#29c955"/><polyline points="0,0.5 7,6.5 14,0.5" fill="none" stroke="#05320f" stroke-width="1.3"/></svg>
<svg class="nts" style="left:1057px;top:1061px" width="14" height="8" viewBox="0 0 14 8"><polygon points="0,0 7,6.5 14,0" fill="#29c955"/><polyline points="0,0.5 7,6.5 14,0.5" fill="none" stroke="#05320f" stroke-width="1.3"/></svg>
<svg class="nts" style="left:1155px;top:1053px" width="14" height="8" viewBox="0 0 14 8"><polygon points="0,0 7,6.5 14,0" fill="#29c955"/><polyline points="0,0.5 7,6.5 14,0.5" fill="none" stroke="#05320f" stroke-width="1.3"/></svg>
<svg class="nts" style="left:630px;top:1079px" width="14" height="8" viewBox="0 0 14 8"><polygon points="0,0 7,6.5 14,0" fill="#29c955"/><polyline points="0,0.5 7,6.5 14,0.5" fill="none" stroke="#05320f" stroke-width="1.3"/></svg>
<svg class="nts" style="left:884px;top:1112px" width="14" height="8" viewBox="0 0 14 8"><polygon points="0,0 7,6.5 14,0" fill="#29c955"/><polyline points="0,0.5 7,6.5 14,0.5" fill="none" stroke="#05320f" stroke-width="1.3"/></svg>
<svg class="nts" style="left:967px;top:1112px" width="14" height="8" viewBox="0 0 14 8"><polygon points="0,0 7,6.5 14,0" fill="#e72d32"/><polyline points="0,0.5 7,6.5 14,0.5" fill="none" stroke="#05320f" stroke-width="1.3"/></svg>
<svg class="nts" style="left:1045px;top:1112px" width="14" height="8" viewBox="0 0 14 8"><polygon points="0,0 7,6.5 14,0" fill="#29c955"/><polyline points="0,0.5 7,6.5 14,0.5" fill="none" stroke="#05320f" stroke-width="1.3"/></svg>
<svg class="nts" style="left:1121px;top:1112px" width="14" height="8" viewBox="0 0 14 8"><polygon points="0,0 7,6.5 14,0" fill="#29c955"/><polyline points="0,0.5 7,6.5 14,0.5" fill="none" stroke="#05320f" stroke-width="1.3"/></svg>
<svg class="nts" style="left:967px;top:1170px" width="14" height="8" viewBox="0 0 14 8"><polygon points="0,0 7,6.5 14,0" fill="#3a6a4a"/><polyline points="0,0.5 7,6.5 14,0.5" fill="none" stroke="#05320f" stroke-width="1.3"/></svg>
<svg class="nts" style="left:1121px;top:1177px" width="14" height="8" viewBox="0 0 14 8"><polygon points="0,0 7,6.5 14,0" fill="#8c3d4a"/><polyline points="0,0.5 7,6.5 14,0.5" fill="none" stroke="#05320f" stroke-width="1.3"/></svg>
<svg class="nts" style="left:1045px;top:1167px" width="14" height="8" viewBox="0 0 14 8"><polygon points="0,0 7,6.5 14,0" fill="#e72d32"/><polyline points="0,0.5 7,6.5 14,0.5" fill="none" stroke="#05320f" stroke-width="1.3"/></svg>
<div style="position:absolute;left:0;top:31px;width:200px;height:200px;background:radial-gradient(ellipse 120px 110px at 0 0,rgba(255,255,255,.085),rgba(255,255,255,.03) 60%,rgba(255,255,255,0) 100%)"></div>
<div style="position:absolute;left:51px;top:54px;width:396px;height:2px;background:#6a1520"></div>
<div style="position:absolute;left:51px;top:54px;width:2px;height:362px;background:#6a1520"></div>
<div style="position:absolute;left:49px;top:1112px;width:122px;height:35px;background:#fff;border-radius:5px;font:bold 29px/35px 'Liberation Sans',Arial,sans-serif;color:#111;text-align:center;letter-spacing:0px"><span style="display:inline-block;transform:scaleY(1.08)">TASNIM</span></div>
<div style="position:absolute;left:180px;top:1113px;font:700 42px/42px 'Liberation Sans',Arial,sans-serif;color:rgba(232,22,32,0.78);transform:scaleX(0.655);transform-origin:0 0;white-space:nowrap">NEWS</div>
<div style="position:absolute;left:251px;top:1145px;width:12px;height:3px;background:rgba(232,22,32,0.6)"></div>
<div style="position:absolute;left:858px;top:1143px;width:293px;height:2px;background:#d8dde2;opacity:.85"></div>
<div style="position:absolute;left:1149px;top:801px;width:2px;height:344px;background:#d8dde2;opacity:.85"></div>
</body></html>
